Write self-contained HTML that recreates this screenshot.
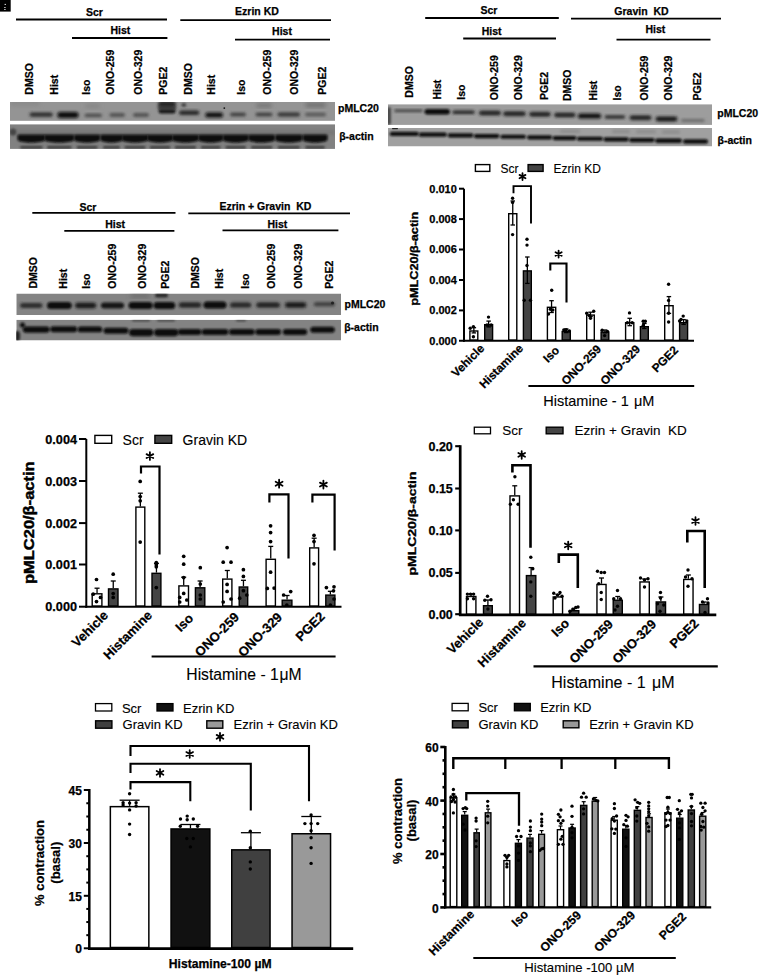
<!DOCTYPE html>
<html><head><meta charset="utf-8"><style>
html,body{margin:0;padding:0;background:#fff;overflow:hidden;width:760px;height:978px;}
svg{display:block;}
text{font-family:"Liberation Sans", sans-serif;}
text[font-weight="bold"]{stroke:#000;stroke-width:0.25px;}
text[font-weight="normal"]{stroke:#000;stroke-width:0.12px;}
</style></head><body>
<svg width="760" height="978" viewBox="0 0 760 978">
<defs>
<filter id="b1" x="-50%" y="-50%" width="200%" height="200%"><feGaussianBlur stdDeviation="1.2"/></filter>
<filter id="b2" x="-50%" y="-50%" width="200%" height="200%"><feGaussianBlur stdDeviation="2"/></filter>
<filter id="b08" x="-50%" y="-50%" width="200%" height="200%"><feGaussianBlur stdDeviation="0.8"/></filter>
<filter id="b15" x="-50%" y="-50%" width="200%" height="200%"><feGaussianBlur stdDeviation="1.5"/></filter>
<filter id="b05" x="-50%" y="-50%" width="200%" height="200%"><feGaussianBlur stdDeviation="0.6"/></filter>
</defs>
<rect width="760" height="978" fill="#fff"/>
<rect x="0" y="0" width="10.7" height="11.6" fill="#000"/>
<rect x="4.6" y="3.9" width="1.3" height="1.1" fill="#ddd"/>
<rect x="4.1" y="7" width="1.6" height="0.9" fill="#ccc"/>
<rect x="4.1" y="9.1" width="1.6" height="0.9" fill="#ccc"/>
<text x="94.5" y="16" font-size="10.5" font-weight="bold" text-anchor="middle" fill="#000">Scr</text>
<line x1="16" y1="19.5" x2="167" y2="19.5" stroke="#000" stroke-width="1.8" stroke-linecap="butt"/>
<text x="120.3" y="34.2" font-size="10.5" font-weight="bold" text-anchor="middle" fill="#000">Hist</text>
<line x1="72" y1="38" x2="167.4" y2="38" stroke="#000" stroke-width="1.8" stroke-linecap="butt"/>
<text x="257" y="15" font-size="10.5" font-weight="bold" text-anchor="middle" fill="#000">Ezrin KD</text>
<line x1="180.3" y1="20.1" x2="331" y2="20.1" stroke="#000" stroke-width="1.8" stroke-linecap="butt"/>
<text x="282" y="34.5" font-size="10.5" font-weight="bold" text-anchor="middle" fill="#000">Hist</text>
<line x1="235" y1="39.6" x2="330" y2="39.6" stroke="#000" stroke-width="1.8" stroke-linecap="butt"/>
<text transform="translate(33.3,94.7) rotate(-90)" font-size="10.5" font-weight="bold" text-anchor="start" fill="#000">DMSO</text>
<text transform="translate(57.9,94.7) rotate(-90)" font-size="10.5" font-weight="bold" text-anchor="start" fill="#000">Hist</text>
<text transform="translate(89.7,94.7) rotate(-90)" font-size="10.5" font-weight="bold" text-anchor="start" fill="#000">Iso</text>
<text transform="translate(113.6,94.7) rotate(-90)" font-size="10.5" font-weight="bold" text-anchor="start" fill="#000">ONO-259</text>
<text transform="translate(142.4,94.7) rotate(-90)" font-size="10.5" font-weight="bold" text-anchor="start" fill="#000">ONO-329</text>
<text transform="translate(166.6,94.7) rotate(-90)" font-size="10.5" font-weight="bold" text-anchor="start" fill="#000">PGE2</text>
<text transform="translate(191.5,94.7) rotate(-90)" font-size="10.5" font-weight="bold" text-anchor="start" fill="#000">DMSO</text>
<text transform="translate(215.3,94.7) rotate(-90)" font-size="10.5" font-weight="bold" text-anchor="start" fill="#000">Hist</text>
<text transform="translate(245.3,94.7) rotate(-90)" font-size="10.5" font-weight="bold" text-anchor="start" fill="#000">Iso</text>
<text transform="translate(271.3,94.7) rotate(-90)" font-size="10.5" font-weight="bold" text-anchor="start" fill="#000">ONO-259</text>
<text transform="translate(298.3,94.7) rotate(-90)" font-size="10.5" font-weight="bold" text-anchor="start" fill="#000">ONO-329</text>
<text transform="translate(326.3,94.7) rotate(-90)" font-size="10.5" font-weight="bold" text-anchor="start" fill="#000">PGE2</text>
<text x="488.9" y="14" font-size="10.5" font-weight="bold" text-anchor="middle" fill="#000">Scr</text>
<line x1="425.2" y1="18" x2="558.8" y2="18" stroke="#000" stroke-width="1.8" stroke-linecap="butt"/>
<text x="491.6" y="34.5" font-size="10.5" font-weight="bold" text-anchor="middle" fill="#000">Hist</text>
<line x1="463.2" y1="38.5" x2="556" y2="38.5" stroke="#000" stroke-width="1.8" stroke-linecap="butt"/>
<text x="641.5" y="14.5" font-size="10.5" font-weight="bold" text-anchor="middle" fill="#000">Gravin&#160;&#160;KD</text>
<line x1="571" y1="18.6" x2="721" y2="18.6" stroke="#000" stroke-width="1.8" stroke-linecap="butt"/>
<text x="655.4" y="33.2" font-size="10.5" font-weight="bold" text-anchor="middle" fill="#000">Hist</text>
<line x1="616.5" y1="39.6" x2="710.5" y2="39.6" stroke="#000" stroke-width="1.8" stroke-linecap="butt"/>
<text transform="translate(412.6,97.7) rotate(-90)" font-size="10.5" font-weight="bold" text-anchor="start" fill="#000">DMSO</text>
<text transform="translate(441.2,99.5) rotate(-90)" font-size="10.5" font-weight="bold" text-anchor="start" fill="#000">Hist</text>
<text transform="translate(464.5,99.7) rotate(-90)" font-size="10.5" font-weight="bold" text-anchor="start" fill="#000">Iso</text>
<text transform="translate(497.6,100.2) rotate(-90)" font-size="10.5" font-weight="bold" text-anchor="start" fill="#000">ONO-259</text>
<text transform="translate(522.2,100.2) rotate(-90)" font-size="10.5" font-weight="bold" text-anchor="start" fill="#000">ONO-329</text>
<text transform="translate(547.5,99.9) rotate(-90)" font-size="10.5" font-weight="bold" text-anchor="start" fill="#000">PGE2</text>
<text transform="translate(570.8,101) rotate(-90)" font-size="10.5" font-weight="bold" text-anchor="start" fill="#000">DMSO</text>
<text transform="translate(597.2,100.5) rotate(-90)" font-size="10.5" font-weight="bold" text-anchor="start" fill="#000">Hist</text>
<text transform="translate(621.4,100.5) rotate(-90)" font-size="10.5" font-weight="bold" text-anchor="start" fill="#000">Iso</text>
<text transform="translate(648.2,100.5) rotate(-90)" font-size="10.5" font-weight="bold" text-anchor="start" fill="#000">ONO-259</text>
<text transform="translate(672.2,100.5) rotate(-90)" font-size="10.5" font-weight="bold" text-anchor="start" fill="#000">ONO-329</text>
<text transform="translate(701.2,100.5) rotate(-90)" font-size="10.5" font-weight="bold" text-anchor="start" fill="#000">PGE2</text>
<text x="88" y="210.5" font-size="10.5" font-weight="bold" text-anchor="middle" fill="#000">Scr</text>
<line x1="32.3" y1="212.9" x2="175.5" y2="212.9" stroke="#000" stroke-width="1.8" stroke-linecap="butt"/>
<text x="115.1" y="228.2" font-size="10.5" font-weight="bold" text-anchor="middle" fill="#000">Hist</text>
<line x1="64.3" y1="230.8" x2="174.4" y2="230.8" stroke="#000" stroke-width="1.8" stroke-linecap="butt"/>
<text x="265.4" y="210.2" font-size="10.5" font-weight="bold" text-anchor="middle" fill="#000">Ezrin&#160;+&#160;Gravin&#160;&#160;KD</text>
<line x1="188.3" y1="213.3" x2="350" y2="213.3" stroke="#000" stroke-width="1.8" stroke-linecap="butt"/>
<text x="277.3" y="228.2" font-size="10.5" font-weight="bold" text-anchor="middle" fill="#000">Hist</text>
<line x1="222.5" y1="230.3" x2="338.4" y2="230.3" stroke="#000" stroke-width="1.8" stroke-linecap="butt"/>
<text transform="translate(36.5,288.5) rotate(-90)" font-size="10.5" font-weight="bold" text-anchor="start" fill="#000">DMSO</text>
<text transform="translate(66.7,288.7) rotate(-90)" font-size="10.5" font-weight="bold" text-anchor="start" fill="#000">Hist</text>
<text transform="translate(90.2,288.7) rotate(-90)" font-size="10.5" font-weight="bold" text-anchor="start" fill="#000">Iso</text>
<text transform="translate(115.9,288.7) rotate(-90)" font-size="10.5" font-weight="bold" text-anchor="start" fill="#000">ONO-259</text>
<text transform="translate(146,288.7) rotate(-90)" font-size="10.5" font-weight="bold" text-anchor="start" fill="#000">ONO-329</text>
<text transform="translate(169,288.7) rotate(-90)" font-size="10.5" font-weight="bold" text-anchor="start" fill="#000">PGE2</text>
<text transform="translate(198.7,288.5) rotate(-90)" font-size="10.5" font-weight="bold" text-anchor="start" fill="#000">DMSO</text>
<text transform="translate(223.3,288.7) rotate(-90)" font-size="10.5" font-weight="bold" text-anchor="start" fill="#000">Hist</text>
<text transform="translate(248.6,288.7) rotate(-90)" font-size="10.5" font-weight="bold" text-anchor="start" fill="#000">Iso</text>
<text transform="translate(274.8,288.7) rotate(-90)" font-size="10.5" font-weight="bold" text-anchor="start" fill="#000">ONO-259</text>
<text transform="translate(302.3,288.7) rotate(-90)" font-size="10.5" font-weight="bold" text-anchor="start" fill="#000">ONO-329</text>
<text transform="translate(332.5,288.7) rotate(-90)" font-size="10.5" font-weight="bold" text-anchor="start" fill="#000">PGE2</text>
<clipPath id="ca1"><rect x="10" y="102" width="325" height="19"/></clipPath><g clip-path="url(#ca1)">
<rect x="10" y="102" width="325" height="18.8" fill="#949494"/>
<rect x="10" y="100" width="30" height="6" rx="3" fill="#8a8a8a" opacity="1" filter="url(#b2)"/>
<rect x="29.6" y="112.4" width="23.2" height="4.4" rx="2.2" fill="#2a2a2a" opacity="1" filter="url(#b15)"/>
<rect x="57.3" y="112" width="21.3" height="6" rx="3" fill="#0d0d0d" opacity="1" filter="url(#b15)"/>
<rect x="84.6" y="113.7" width="17.4" height="3.4" rx="1.7" fill="#4a4a4a" opacity="1" filter="url(#b15)"/>
<rect x="85" y="104" width="15" height="4" rx="2" fill="#858585" opacity="1" filter="url(#b2)"/>
<rect x="109.5" y="113.3" width="15.5" height="3.4" rx="1.7" fill="#4a4a4a" opacity="1" filter="url(#b15)"/>
<rect x="133" y="113.3" width="16" height="3.4" rx="1.7" fill="#4a4a4a" opacity="1" filter="url(#b15)"/>
<rect x="158" y="101" width="18" height="7" rx="3.5" fill="#262626" opacity="1" filter="url(#b15)"/>
<rect x="158.6" y="109.05" width="16.9" height="4.5" rx="2.25" fill="#161616" opacity="1" filter="url(#b1)"/>
<rect x="158" y="106" width="18" height="4" rx="2" fill="#333" opacity="1" filter="url(#b15)"/>
<rect x="179" y="110.5" width="20.4" height="4.4" rx="2.2" fill="#262626" opacity="1" filter="url(#b15)"/>
<ellipse cx="183.8" cy="105" rx="2.5" ry="2" fill="#444" opacity="1" filter="url(#b1)"/>
<rect x="205.3" y="112.5" width="17.7" height="5" rx="2.5" fill="#111" opacity="1" filter="url(#b15)"/>
<circle cx="224.3" cy="108.1" r="0.9" fill="#111"/>
<rect x="230" y="112.7" width="16" height="3.6" rx="1.8" fill="#3a3a3a" opacity="1" filter="url(#b15)"/>
<rect x="255.5" y="112.7" width="17" height="3.6" rx="1.8" fill="#3a3a3a" opacity="1" filter="url(#b15)"/>
<rect x="256" y="103.75" width="16" height="3.5" rx="1.75" fill="#6e6e6e" opacity="1" filter="url(#b2)"/>
<rect x="277.5" y="112.5" width="22.5" height="4" rx="2" fill="#303030" opacity="1" filter="url(#b15)"/>
<rect x="305" y="112.8" width="21" height="3.4" rx="1.7" fill="#555" opacity="1" filter="url(#b15)"/>
<rect x="305" y="103" width="21" height="4" rx="2" fill="#6a6a6a" opacity="1" filter="url(#b2)"/>
</g>
<clipPath id="ca2"><rect x="10" y="124.2" width="325" height="24.7"/></clipPath><g clip-path="url(#ca2)">
<rect x="10" y="124.2" width="325" height="24.7" fill="#818181"/>
<rect x="10" y="130" width="325" height="5" fill="#787878" filter="url(#b15)"/>
<ellipse cx="13" cy="132" rx="3.2" ry="3.6" fill="#444" opacity="1" filter="url(#b1)"/>
<path d="M17.5,135.2 Q17.5,134.6 19.5,134.6 H43.2 Q45.2,134.6 45.2,135.2 V140 C42.2,143.6 20.5,143.6 17.5,140 Z" fill="#0a0a0a" filter="url(#b08)"/>
<rect x="20.2" y="145.9" width="22.3" height="2.6" rx="1.3" fill="#383838" opacity="1" filter="url(#b1)"/>
<path d="M44.3,135.2 Q44.3,134.6 46.3,134.6 H72.2 Q74.2,134.6 74.2,135.2 V140 C71.2,143.6 47.3,143.6 44.3,140 Z" fill="#0a0a0a" filter="url(#b08)"/>
<rect x="47" y="145.9" width="24.5" height="2.6" rx="1.3" fill="#383838" opacity="1" filter="url(#b1)"/>
<path d="M74,135.2 Q74,134.6 76,134.6 H98.2 Q100.2,134.6 100.2,135.2 V140 C97.2,143.6 77,143.6 74,140 Z" fill="#0a0a0a" filter="url(#b08)"/>
<rect x="76.7" y="145.9" width="20.8" height="2.6" rx="1.3" fill="#383838" opacity="1" filter="url(#b1)"/>
<path d="M100.3,135.2 Q100.3,134.6 102.3,134.6 H120.7 Q122.7,134.6 122.7,135.2 V140 C119.7,143.6 103.3,143.6 100.3,140 Z" fill="#0a0a0a" filter="url(#b08)"/>
<rect x="103" y="145.9" width="17" height="2.6" rx="1.3" fill="#383838" opacity="1" filter="url(#b1)"/>
<path d="M121.8,135.2 Q121.8,134.6 123.8,134.6 H146.2 Q148.2,134.6 148.2,135.2 V140 C145.2,143.6 124.8,143.6 121.8,140 Z" fill="#0a0a0a" filter="url(#b08)"/>
<rect x="124.5" y="145.9" width="21" height="2.6" rx="1.3" fill="#383838" opacity="1" filter="url(#b1)"/>
<path d="M147.1,135.2 Q147.1,134.6 149.1,134.6 H171 Q173,134.6 173,135.2 V140 C170,143.6 150.1,143.6 147.1,140 Z" fill="#0a0a0a" filter="url(#b08)"/>
<rect x="149.8" y="145.9" width="20.5" height="2.6" rx="1.3" fill="#383838" opacity="1" filter="url(#b1)"/>
<path d="M172.1,135.2 Q172.1,134.6 174.1,134.6 H196.8 Q198.8,134.6 198.8,135.2 V140 C195.8,143.6 175.1,143.6 172.1,140 Z" fill="#0a0a0a" filter="url(#b08)"/>
<rect x="174.8" y="145.9" width="21.3" height="2.6" rx="1.3" fill="#383838" opacity="1" filter="url(#b1)"/>
<path d="M198.2,135.2 Q198.2,134.6 200.2,134.6 H221.2 Q223.2,134.6 223.2,135.2 V140 C220.2,143.6 201.2,143.6 198.2,140 Z" fill="#0a0a0a" filter="url(#b08)"/>
<rect x="200.9" y="145.9" width="19.6" height="2.6" rx="1.3" fill="#383838" opacity="1" filter="url(#b1)"/>
<path d="M222.8,135.2 Q222.8,134.6 224.8,134.6 H246.7 Q248.7,134.6 248.7,135.2 V140 C245.7,143.6 225.8,143.6 222.8,140 Z" fill="#0a0a0a" filter="url(#b08)"/>
<rect x="225.5" y="145.9" width="20.5" height="2.6" rx="1.3" fill="#383838" opacity="1" filter="url(#b1)"/>
<path d="M248.3,135.2 Q248.3,134.6 250.3,134.6 H273 Q275,134.6 275,135.2 V140 C272,143.6 251.3,143.6 248.3,140 Z" fill="#0a0a0a" filter="url(#b08)"/>
<rect x="251" y="145.9" width="21.3" height="2.6" rx="1.3" fill="#383838" opacity="1" filter="url(#b1)"/>
<path d="M275.1,135.2 Q275.1,134.6 277.1,134.6 H300.5 Q302.5,134.6 302.5,135.2 V140 C299.5,143.6 278.1,143.6 275.1,140 Z" fill="#0a0a0a" filter="url(#b08)"/>
<rect x="277.8" y="145.9" width="22" height="2.6" rx="1.3" fill="#383838" opacity="1" filter="url(#b1)"/>
<path d="M302.6,135.2 Q302.6,134.6 304.6,134.6 H325.5 Q327.5,134.6 327.5,135.2 V140 C324.5,143.6 305.6,143.6 302.6,140 Z" fill="#0a0a0a" filter="url(#b08)"/>
<rect x="305.3" y="145.9" width="19.5" height="2.6" rx="1.3" fill="#383838" opacity="1" filter="url(#b1)"/>
</g>
<text x="338" y="112.2" font-size="10.5" font-weight="bold" text-anchor="start" fill="#000">pMLC20</text>
<text x="339.2" y="140.4" font-size="10.5" font-weight="bold" text-anchor="start" fill="#000">β-actin</text>
<clipPath id="cb1"><rect x="388" y="104.2" width="324" height="20.7"/></clipPath><g clip-path="url(#cb1)">
<rect x="388" y="104.2" width="324" height="20.7" fill="#9d9d9d"/>
<rect x="386.5" y="107" width="4.5" height="18" rx="2.25" fill="#4a4a4a" opacity="1" filter="url(#b1)"/>
<rect x="394.2" y="109.4" width="28.5" height="2.6" rx="1.3" fill="#383838" opacity="1" filter="url(#b15)"/>
<rect x="424.5" y="109.05" width="25.4" height="5.5" rx="2.75" fill="#0c0c0c" opacity="1" filter="url(#b1)"/>
<rect x="452.3" y="110.5" width="22.5" height="3.6" rx="1.8" fill="#202020" opacity="1" filter="url(#b15)"/>
<rect x="479" y="110.7" width="21.9" height="4.6" rx="2.3" fill="#1a1a1a" opacity="1" filter="url(#b15)"/>
<rect x="503.2" y="111.4" width="22.5" height="4.6" rx="2.3" fill="#1a1a1a" opacity="1" filter="url(#b15)"/>
<rect x="529.3" y="111.9" width="21.3" height="4.6" rx="2.3" fill="#1a1a1a" opacity="1" filter="url(#b15)"/>
<rect x="554.2" y="112.7" width="21.3" height="4.6" rx="2.3" fill="#1a1a1a" opacity="1" filter="url(#b15)"/>
<rect x="577.9" y="113.4" width="23.2" height="5.2" rx="2.6" fill="#0f0f0f" opacity="1" filter="url(#b15)"/>
<rect x="604.5" y="115.2" width="20.8" height="3.6" rx="1.8" fill="#2a2a2a" opacity="1" filter="url(#b15)"/>
<rect x="629.6" y="115.5" width="21.8" height="4.6" rx="2.3" fill="#1c1c1c" opacity="1" filter="url(#b15)"/>
<rect x="655.6" y="116.6" width="21.8" height="4.8" rx="2.4" fill="#161616" opacity="1" filter="url(#b15)"/>
<rect x="681" y="119.1" width="23.7" height="3" rx="1.5" fill="#6a6a6a" opacity="1" filter="url(#b15)"/>
</g>
<clipPath id="cb2"><rect x="388" y="128" width="324" height="18.5"/></clipPath><g clip-path="url(#cb2)">
<rect x="388" y="128" width="324" height="18.5" fill="#a0a0a0"/>
<rect x="389.7" y="131.81" width="29.2" height="4.2" rx="2.1" fill="#0a0a0a" opacity="1" filter="url(#b08)"/>
<rect x="418.8" y="132.55" width="28.1" height="4.2" rx="2.1" fill="#0a0a0a" opacity="1" filter="url(#b08)"/>
<rect x="447.7" y="133.28" width="25.7" height="4.2" rx="2.1" fill="#0a0a0a" opacity="1" filter="url(#b08)"/>
<rect x="473.8" y="133.96" width="25.7" height="4.2" rx="2.1" fill="#0a0a0a" opacity="1" filter="url(#b08)"/>
<rect x="500.3" y="134.65" width="25.7" height="4.2" rx="2.1" fill="#0a0a0a" opacity="1" filter="url(#b08)"/>
<rect x="527.1" y="135.34" width="25" height="4.2" rx="2.1" fill="#0a0a0a" opacity="1" filter="url(#b08)"/>
<rect x="552.5" y="135.99" width="24" height="4.2" rx="2.1" fill="#0a0a0a" opacity="1" filter="url(#b08)"/>
<rect x="576.9" y="136.66" width="26.1" height="4.2" rx="2.1" fill="#0a0a0a" opacity="1" filter="url(#b08)"/>
<rect x="603.5" y="137.34" width="25.2" height="4.2" rx="2.1" fill="#0a0a0a" opacity="1" filter="url(#b08)"/>
<rect x="629" y="138.01" width="25.7" height="4.2" rx="2.1" fill="#0a0a0a" opacity="1" filter="url(#b08)"/>
<rect x="655.1" y="138.51" width="26.9" height="4.6" rx="2.3" fill="#0a0a0a" opacity="1" filter="url(#b08)"/>
<rect x="683" y="139.21" width="25" height="4.6" rx="2.3" fill="#0a0a0a" opacity="1" filter="url(#b08)"/>
<rect x="392" y="127.9" width="6" height="1.4" rx="0.7" fill="#222" opacity="1" filter="url(#b05)"/>
<rect x="560" y="129.7" width="20" height="3" rx="1.5" fill="#8a8a8a" opacity="1" filter="url(#b15)"/>
<rect x="612" y="130" width="18" height="3" rx="1.5" fill="#8a8a8a" opacity="1" filter="url(#b15)"/>
<rect x="636" y="130.3" width="20" height="3" rx="1.5" fill="#8a8a8a" opacity="1" filter="url(#b15)"/>
<rect x="662" y="130.5" width="18" height="3" rx="1.5" fill="#8a8a8a" opacity="1" filter="url(#b15)"/>
</g>
<text x="717.3" y="117" font-size="10.5" font-weight="bold" text-anchor="start" fill="#000">pMLC20</text>
<text x="717.5" y="144" font-size="10.5" font-weight="bold" text-anchor="start" fill="#000">β-actin</text>
<clipPath id="cc1"><rect x="16.3" y="293.5" width="324.7" height="21.5"/></clipPath><g clip-path="url(#cc1)">
<rect x="16.3" y="293.5" width="324.7" height="21.5" fill="#848484"/>
<rect x="20" y="303.3" width="22.5" height="4.4" rx="2.2" fill="#222" opacity="1" filter="url(#b15)"/>
<rect x="47" y="302" width="24.75" height="7" rx="3.5" fill="#0a0a0a" opacity="1" filter="url(#b1)"/>
<rect x="75" y="302.8" width="21.25" height="5.4" rx="2.7" fill="#161616" opacity="1" filter="url(#b15)"/>
<rect x="101" y="302.5" width="23" height="6" rx="3" fill="#141414" opacity="1" filter="url(#b1)"/>
<rect x="128.5" y="302" width="24.25" height="7" rx="3.5" fill="#0a0a0a" opacity="1" filter="url(#b1)"/>
<rect x="130" y="294.5" width="20" height="3" rx="1.5" fill="#666" opacity="1" filter="url(#b2)"/>
<rect x="153.5" y="302" width="21.75" height="7" rx="3.5" fill="#0a0a0a" opacity="1" filter="url(#b1)"/>
<rect x="155" y="293.5" width="13" height="4" rx="2" fill="#2a2a2a" opacity="1" filter="url(#b1)"/>
<rect x="178.75" y="302.5" width="22.5" height="5" rx="2.5" fill="#1a1a1a" opacity="1" filter="url(#b15)"/>
<rect x="203.5" y="301.5" width="23" height="7" rx="3.5" fill="#0a0a0a" opacity="1" filter="url(#b1)"/>
<rect x="230" y="302.4" width="21.25" height="5.2" rx="2.6" fill="#202020" opacity="1" filter="url(#b15)"/>
<rect x="256.25" y="302.4" width="23.75" height="5.2" rx="2.6" fill="#1c1c1c" opacity="1" filter="url(#b15)"/>
<rect x="285" y="302.3" width="21.25" height="5.4" rx="2.7" fill="#161616" opacity="1" filter="url(#b15)"/>
<rect x="313.75" y="302.25" width="21.25" height="4" rx="2" fill="#3a3a3a" opacity="1" filter="url(#b15)"/>
<circle cx="332.5" cy="303" r="1.6" fill="#222"/>
</g>
<clipPath id="cc2"><rect x="16.3" y="319.7" width="324.7" height="20.8"/></clipPath><g clip-path="url(#cc2)">
<rect x="16.3" y="319.7" width="324.7" height="20.8" fill="#838383"/>
<ellipse cx="22.5" cy="325" rx="2.6" ry="2.6" fill="#111" opacity="1" filter="url(#b1)"/>
<rect x="14" y="331" width="6" height="10" rx="3" fill="#222" opacity="1" filter="url(#b1)"/>
<rect x="22.75" y="326.55" width="27" height="6.1" rx="3.05" fill="#0a0a0a" opacity="1" filter="url(#b08)"/>
<rect x="50.25" y="326.15" width="27" height="6.1" rx="3.05" fill="#0a0a0a" opacity="1" filter="url(#b08)"/>
<rect x="77.75" y="326.45" width="24.5" height="5.9" rx="2.95" fill="#0a0a0a" opacity="1" filter="url(#b08)"/>
<rect x="103.5" y="327.75" width="25" height="6.1" rx="3.05" fill="#0a0a0a" opacity="1" filter="url(#b08)"/>
<rect x="129" y="329.05" width="24.5" height="7.1" rx="3.55" fill="#0a0a0a" opacity="1" filter="url(#b08)"/>
<rect x="154" y="329.05" width="24.5" height="7.1" rx="3.55" fill="#0a0a0a" opacity="1" filter="url(#b08)"/>
<rect x="177.75" y="328.95" width="23.75" height="6.1" rx="3.05" fill="#0a0a0a" opacity="1" filter="url(#b08)"/>
<rect x="201.5" y="328.95" width="27" height="6.1" rx="3.05" fill="#0a0a0a" opacity="1" filter="url(#b08)"/>
<rect x="229" y="328.95" width="25.75" height="6.1" rx="3.05" fill="#0a0a0a" opacity="1" filter="url(#b08)"/>
<rect x="255.25" y="328.95" width="25.75" height="6.1" rx="3.05" fill="#0a0a0a" opacity="1" filter="url(#b08)"/>
<rect x="282.75" y="328.95" width="24.5" height="6.1" rx="3.05" fill="#0a0a0a" opacity="1" filter="url(#b08)"/>
<rect x="310.25" y="326.65" width="24.5" height="6.1" rx="3.05" fill="#0a0a0a" opacity="1" filter="url(#b08)"/>
<rect x="132" y="319.5" width="18" height="2" rx="1" fill="#444" opacity="1" filter="url(#b1)"/>
<rect x="157" y="319.5" width="18" height="2" rx="1" fill="#444" opacity="1" filter="url(#b1)"/>
<rect x="236" y="319.5" width="10" height="2" rx="1" fill="#444" opacity="1" filter="url(#b1)"/>
</g>
<text x="344.5" y="307.6" font-size="10.5" font-weight="bold" text-anchor="start" fill="#000">pMLC20</text>
<text x="344.2" y="330.7" font-size="10.5" font-weight="bold" text-anchor="start" fill="#000">β-actin</text>
<line x1="464" y1="188.7" x2="464" y2="341.75" stroke="#000" stroke-width="2" stroke-linecap="butt"/>
<line x1="459" y1="188.7" x2="464" y2="188.7" stroke="#000" stroke-width="2" stroke-linecap="butt"/>
<line x1="459" y1="219.1" x2="464" y2="219.1" stroke="#000" stroke-width="2" stroke-linecap="butt"/>
<line x1="459" y1="249.5" x2="464" y2="249.5" stroke="#000" stroke-width="2" stroke-linecap="butt"/>
<line x1="459" y1="280" x2="464" y2="280" stroke="#000" stroke-width="2" stroke-linecap="butt"/>
<line x1="459" y1="310.4" x2="464" y2="310.4" stroke="#000" stroke-width="2" stroke-linecap="butt"/>
<line x1="459" y1="340.75" x2="464" y2="340.75" stroke="#000" stroke-width="2" stroke-linecap="butt"/>
<text x="456.8" y="192.66" font-size="11" font-weight="bold" text-anchor="end" fill="#000">0.010</text>
<text x="456.8" y="223.06" font-size="11" font-weight="bold" text-anchor="end" fill="#000">0.008</text>
<text x="456.8" y="253.46" font-size="11" font-weight="bold" text-anchor="end" fill="#000">0.006</text>
<text x="456.8" y="283.96" font-size="11" font-weight="bold" text-anchor="end" fill="#000">0.004</text>
<text x="456.8" y="314.36" font-size="11" font-weight="bold" text-anchor="end" fill="#000">0.002</text>
<text x="456.8" y="344.71" font-size="11" font-weight="bold" text-anchor="end" fill="#000">0.000</text>
<line x1="463" y1="340.75" x2="694" y2="340.75" stroke="#000" stroke-width="2" stroke-linecap="butt"/>
<text transform="translate(417.6,258.7) rotate(-90)" font-size="10.2" font-weight="bold" text-anchor="middle" fill="#000" style="stroke:#000;stroke-width:0.35px" textLength="94" lengthAdjust="spacingAndGlyphs">pMLC20/β-actin</text>
<rect x="469.9" y="331" width="7.9" height="9" fill="#fff" stroke="#000" stroke-width="1.4"/>
<line x1="473.85" y1="327.7" x2="473.85" y2="332.9" stroke="#000" stroke-width="1.3" stroke-linecap="butt"/>
<line x1="471.6" y1="327.7" x2="476.1" y2="327.7" stroke="#000" stroke-width="1.3" stroke-linecap="butt"/>
<line x1="471.6" y1="332.9" x2="476.1" y2="332.9" stroke="#000" stroke-width="1.3" stroke-linecap="butt"/>
<rect x="484.7" y="324.7" width="7.9" height="15.3" fill="#444444" stroke="#000" stroke-width="1.4"/>
<line x1="488.65" y1="321.1" x2="488.65" y2="326.9" stroke="#000" stroke-width="1.3" stroke-linecap="butt"/>
<line x1="486.4" y1="321.1" x2="490.9" y2="321.1" stroke="#000" stroke-width="1.3" stroke-linecap="butt"/>
<line x1="486.4" y1="326.9" x2="490.9" y2="326.9" stroke="#000" stroke-width="1.3" stroke-linecap="butt"/>
<rect x="508.7" y="213.7" width="8.1" height="126.3" fill="#fff" stroke="#000" stroke-width="1.4"/>
<line x1="512.75" y1="201" x2="512.75" y2="225" stroke="#000" stroke-width="1.3" stroke-linecap="butt"/>
<line x1="510.5" y1="201" x2="515" y2="201" stroke="#000" stroke-width="1.3" stroke-linecap="butt"/>
<line x1="510.5" y1="225" x2="515" y2="225" stroke="#000" stroke-width="1.3" stroke-linecap="butt"/>
<rect x="523.4" y="270.9" width="7.9" height="69.1" fill="#444444" stroke="#000" stroke-width="1.4"/>
<line x1="527.35" y1="257" x2="527.35" y2="283.4" stroke="#000" stroke-width="1.3" stroke-linecap="butt"/>
<line x1="525.1" y1="257" x2="529.6" y2="257" stroke="#000" stroke-width="1.3" stroke-linecap="butt"/>
<line x1="525.1" y1="283.4" x2="529.6" y2="283.4" stroke="#000" stroke-width="1.3" stroke-linecap="butt"/>
<rect x="547.4" y="307.3" width="8.3" height="32.7" fill="#fff" stroke="#000" stroke-width="1.4"/>
<line x1="551.55" y1="300.7" x2="551.55" y2="312.5" stroke="#000" stroke-width="1.3" stroke-linecap="butt"/>
<line x1="549.3" y1="300.7" x2="553.8" y2="300.7" stroke="#000" stroke-width="1.3" stroke-linecap="butt"/>
<line x1="549.3" y1="312.5" x2="553.8" y2="312.5" stroke="#000" stroke-width="1.3" stroke-linecap="butt"/>
<rect x="562.2" y="331.5" width="8.1" height="8.5" fill="#444444" stroke="#000" stroke-width="1.4"/>
<line x1="566.25" y1="329" x2="566.25" y2="332.6" stroke="#000" stroke-width="1.3" stroke-linecap="butt"/>
<line x1="564" y1="329" x2="568.5" y2="329" stroke="#000" stroke-width="1.3" stroke-linecap="butt"/>
<line x1="564" y1="332.6" x2="568.5" y2="332.6" stroke="#000" stroke-width="1.3" stroke-linecap="butt"/>
<rect x="586.7" y="315.1" width="7.6" height="24.9" fill="#fff" stroke="#000" stroke-width="1.4"/>
<line x1="590.5" y1="312.2" x2="590.5" y2="316.6" stroke="#000" stroke-width="1.3" stroke-linecap="butt"/>
<line x1="588.25" y1="312.2" x2="592.75" y2="312.2" stroke="#000" stroke-width="1.3" stroke-linecap="butt"/>
<line x1="588.25" y1="316.6" x2="592.75" y2="316.6" stroke="#000" stroke-width="1.3" stroke-linecap="butt"/>
<rect x="601.1" y="332.1" width="7.7" height="7.9" fill="#444444" stroke="#000" stroke-width="1.4"/>
<line x1="604.95" y1="330" x2="604.95" y2="332.8" stroke="#000" stroke-width="1.3" stroke-linecap="butt"/>
<line x1="602.7" y1="330" x2="607.2" y2="330" stroke="#000" stroke-width="1.3" stroke-linecap="butt"/>
<line x1="602.7" y1="332.8" x2="607.2" y2="332.8" stroke="#000" stroke-width="1.3" stroke-linecap="butt"/>
<rect x="625.6" y="322.7" width="8.2" height="17.3" fill="#fff" stroke="#000" stroke-width="1.4"/>
<line x1="629.7" y1="318.3" x2="629.7" y2="325.7" stroke="#000" stroke-width="1.3" stroke-linecap="butt"/>
<line x1="627.45" y1="318.3" x2="631.95" y2="318.3" stroke="#000" stroke-width="1.3" stroke-linecap="butt"/>
<line x1="627.45" y1="325.7" x2="631.95" y2="325.7" stroke="#000" stroke-width="1.3" stroke-linecap="butt"/>
<rect x="640.4" y="326.7" width="7.9" height="13.3" fill="#444444" stroke="#000" stroke-width="1.4"/>
<line x1="644.35" y1="323.5" x2="644.35" y2="328.5" stroke="#000" stroke-width="1.3" stroke-linecap="butt"/>
<line x1="642.1" y1="323.5" x2="646.6" y2="323.5" stroke="#000" stroke-width="1.3" stroke-linecap="butt"/>
<line x1="642.1" y1="328.5" x2="646.6" y2="328.5" stroke="#000" stroke-width="1.3" stroke-linecap="butt"/>
<rect x="664.7" y="305.7" width="8.4" height="34.3" fill="#fff" stroke="#000" stroke-width="1.4"/>
<line x1="668.9" y1="296.6" x2="668.9" y2="313.4" stroke="#000" stroke-width="1.3" stroke-linecap="butt"/>
<line x1="666.65" y1="296.6" x2="671.15" y2="296.6" stroke="#000" stroke-width="1.3" stroke-linecap="butt"/>
<line x1="666.65" y1="313.4" x2="671.15" y2="313.4" stroke="#000" stroke-width="1.3" stroke-linecap="butt"/>
<rect x="679.6" y="322.7" width="8" height="17.3" fill="#444444" stroke="#000" stroke-width="1.4"/>
<line x1="683.6" y1="319.6" x2="683.6" y2="324.4" stroke="#000" stroke-width="1.3" stroke-linecap="butt"/>
<line x1="681.35" y1="319.6" x2="685.85" y2="319.6" stroke="#000" stroke-width="1.3" stroke-linecap="butt"/>
<line x1="681.35" y1="324.4" x2="685.85" y2="324.4" stroke="#000" stroke-width="1.3" stroke-linecap="butt"/>
<path d="M513.5,193.3 V186.1 H531 V223.4" stroke="#000" stroke-width="1.9" fill="none"/>
<path d="M522.50,173.15L522.50,180.05M519.52,174.88L525.48,178.32M525.48,174.88L519.52,178.32" stroke="#000" stroke-width="1.8" stroke-linecap="round"/>
<path d="M550.3,270.4 V263.5 H566.5 V302.4" stroke="#000" stroke-width="2.1" fill="none"/>
<path d="M558.60,250.53L558.60,257.57M555.56,252.29L561.64,255.81M561.64,252.29L555.56,255.81" stroke="#000" stroke-width="1.8" stroke-linecap="round"/>
<rect x="475.4" y="164.6" width="14.4" height="6.8" fill="#fff" stroke="#000" stroke-width="1.4"/>
<text x="500.4" y="173.2" font-size="12" font-weight="normal" text-anchor="start" fill="#000">Scr</text>
<rect x="528.1" y="164.6" width="15" height="6.8" fill="#444444" stroke="#000" stroke-width="1.4"/>
<text x="553.5" y="173.2" font-size="12" font-weight="normal" text-anchor="start" fill="#000">Ezrin KD</text>
<text transform="translate(485.04,349.09) rotate(-45)" font-size="11.8" font-weight="bold" text-anchor="end" fill="#000">Vehicle</text>
<text transform="translate(524.01,349.03) rotate(-45)" font-size="11.8" font-weight="bold" text-anchor="end" fill="#000">Histamine</text>
<text transform="translate(560.09,351.11) rotate(-45)" font-size="11.8" font-weight="bold" text-anchor="end" fill="#000">Iso</text>
<text transform="translate(601.97,349.94) rotate(-45)" font-size="11.8" font-weight="bold" text-anchor="end" fill="#000">ONO-259</text>
<text transform="translate(640.99,349.98) rotate(-45)" font-size="11.8" font-weight="bold" text-anchor="end" fill="#000">ONO-329</text>
<text transform="translate(679.01,350.8) rotate(-45)" font-size="11.8" font-weight="bold" text-anchor="end" fill="#000">PGE2</text>
<line x1="528.4" y1="386" x2="694.2" y2="386" stroke="#000" stroke-width="2" stroke-linecap="butt"/>
<text x="543.3" y="405.5" font-size="14.5" font-weight="normal" text-anchor="start" fill="#000">Histamine - 1 <tspan dx="1.2">μM</tspan></text>
<line x1="86.3" y1="439" x2="86.3" y2="607.7" stroke="#000" stroke-width="2" stroke-linecap="butt"/>
<line x1="79" y1="439" x2="86.3" y2="439" stroke="#000" stroke-width="2" stroke-linecap="butt"/>
<line x1="79" y1="481" x2="86.3" y2="481" stroke="#000" stroke-width="2" stroke-linecap="butt"/>
<line x1="79" y1="523.1" x2="86.3" y2="523.1" stroke="#000" stroke-width="2" stroke-linecap="butt"/>
<line x1="79" y1="564.5" x2="86.3" y2="564.5" stroke="#000" stroke-width="2" stroke-linecap="butt"/>
<line x1="79" y1="606.7" x2="86.3" y2="606.7" stroke="#000" stroke-width="2" stroke-linecap="butt"/>
<text x="77" y="443.57" font-size="12.7" font-weight="bold" text-anchor="end" fill="#000">0.004</text>
<text x="77" y="485.57" font-size="12.7" font-weight="bold" text-anchor="end" fill="#000">0.003</text>
<text x="77" y="527.67" font-size="12.7" font-weight="bold" text-anchor="end" fill="#000">0.002</text>
<text x="77" y="569.07" font-size="12.7" font-weight="bold" text-anchor="end" fill="#000">0.001</text>
<text x="77" y="611.27" font-size="12.7" font-weight="bold" text-anchor="end" fill="#000">0.000</text>
<line x1="85.3" y1="606.7" x2="341.5" y2="606.7" stroke="#000" stroke-width="2" stroke-linecap="butt"/>
<text transform="translate(34.1,522.7) rotate(-90)" font-size="14.2" font-weight="bold" text-anchor="middle" fill="#000" style="stroke:#000;stroke-width:0.45px" textLength="122.5" lengthAdjust="spacingAndGlyphs">pMLC20/β-actin</text>
<rect x="92.2" y="593.8" width="9.7" height="12.2" fill="#fff" stroke="#000" stroke-width="1.4"/>
<line x1="97.05" y1="588.2" x2="97.05" y2="593.1" stroke="#000" stroke-width="1.3" stroke-linecap="butt"/>
<line x1="94.55" y1="588.2" x2="99.55" y2="588.2" stroke="#000" stroke-width="1.3" stroke-linecap="butt"/>
<rect x="108.5" y="588.9" width="9.5" height="17.1" fill="#444444" stroke="#000" stroke-width="1.4"/>
<line x1="113.25" y1="581" x2="113.25" y2="588.2" stroke="#000" stroke-width="1.3" stroke-linecap="butt"/>
<line x1="110.75" y1="581" x2="115.75" y2="581" stroke="#000" stroke-width="1.3" stroke-linecap="butt"/>
<rect x="135.9" y="507.1" width="8.9" height="98.9" fill="#fff" stroke="#000" stroke-width="1.4"/>
<line x1="140.35" y1="493.2" x2="140.35" y2="506.4" stroke="#000" stroke-width="1.3" stroke-linecap="butt"/>
<line x1="137.85" y1="493.2" x2="142.85" y2="493.2" stroke="#000" stroke-width="1.3" stroke-linecap="butt"/>
<rect x="152" y="573.3" width="8.9" height="32.7" fill="#444444" stroke="#000" stroke-width="1.4"/>
<line x1="156.45" y1="563.4" x2="156.45" y2="572.6" stroke="#000" stroke-width="1.3" stroke-linecap="butt"/>
<line x1="153.95" y1="563.4" x2="158.95" y2="563.4" stroke="#000" stroke-width="1.3" stroke-linecap="butt"/>
<rect x="178.9" y="585.9" width="9.6" height="20.1" fill="#fff" stroke="#000" stroke-width="1.4"/>
<line x1="183.7" y1="577.2" x2="183.7" y2="585.2" stroke="#000" stroke-width="1.3" stroke-linecap="butt"/>
<line x1="181.2" y1="577.2" x2="186.2" y2="577.2" stroke="#000" stroke-width="1.3" stroke-linecap="butt"/>
<rect x="195.4" y="587.8" width="9.4" height="18.2" fill="#444444" stroke="#000" stroke-width="1.4"/>
<line x1="200.1" y1="581" x2="200.1" y2="587.1" stroke="#000" stroke-width="1.3" stroke-linecap="butt"/>
<line x1="197.6" y1="581" x2="202.6" y2="581" stroke="#000" stroke-width="1.3" stroke-linecap="butt"/>
<rect x="222.7" y="579.1" width="9.2" height="26.9" fill="#fff" stroke="#000" stroke-width="1.4"/>
<line x1="227.3" y1="570.5" x2="227.3" y2="578.4" stroke="#000" stroke-width="1.3" stroke-linecap="butt"/>
<line x1="224.8" y1="570.5" x2="229.8" y2="570.5" stroke="#000" stroke-width="1.3" stroke-linecap="butt"/>
<rect x="239.2" y="587" width="8.5" height="19" fill="#444444" stroke="#000" stroke-width="1.4"/>
<line x1="243.45" y1="580.3" x2="243.45" y2="586.3" stroke="#000" stroke-width="1.3" stroke-linecap="butt"/>
<line x1="240.95" y1="580.3" x2="245.95" y2="580.3" stroke="#000" stroke-width="1.3" stroke-linecap="butt"/>
<rect x="266.1" y="559.3" width="9.3" height="46.7" fill="#fff" stroke="#000" stroke-width="1.4"/>
<line x1="270.75" y1="546.4" x2="270.75" y2="558.6" stroke="#000" stroke-width="1.3" stroke-linecap="butt"/>
<line x1="268.25" y1="546.4" x2="273.25" y2="546.4" stroke="#000" stroke-width="1.3" stroke-linecap="butt"/>
<rect x="282.2" y="600.2" width="9.7" height="5.8" fill="#444444" stroke="#000" stroke-width="1.4"/>
<line x1="287.05" y1="595.5" x2="287.05" y2="599.5" stroke="#000" stroke-width="1.3" stroke-linecap="butt"/>
<line x1="284.55" y1="595.5" x2="289.55" y2="595.5" stroke="#000" stroke-width="1.3" stroke-linecap="butt"/>
<rect x="309.7" y="547.9" width="8.9" height="58.1" fill="#fff" stroke="#000" stroke-width="1.4"/>
<line x1="314.15" y1="538.2" x2="314.15" y2="547.2" stroke="#000" stroke-width="1.3" stroke-linecap="butt"/>
<line x1="311.65" y1="538.2" x2="316.65" y2="538.2" stroke="#000" stroke-width="1.3" stroke-linecap="butt"/>
<rect x="325.8" y="595.1" width="9.1" height="10.9" fill="#444444" stroke="#000" stroke-width="1.4"/>
<line x1="330.35" y1="591.3" x2="330.35" y2="594.4" stroke="#000" stroke-width="1.3" stroke-linecap="butt"/>
<line x1="327.85" y1="591.3" x2="332.85" y2="591.3" stroke="#000" stroke-width="1.3" stroke-linecap="butt"/>
<path d="M141,473.4 V466.5 H159.5 V554.4" stroke="#000" stroke-width="2.2" fill="none"/>
<path d="M149.90,452.18L149.90,459.92M146.55,454.12L153.25,457.98M153.25,454.12L146.55,457.98" stroke="#000" stroke-width="1.8" stroke-linecap="round"/>
<path d="M269.4,502.4 V494.3 H288.5 V558.6" stroke="#000" stroke-width="2.2" fill="none"/>
<path d="M279.10,479.72L279.10,487.68M275.65,481.71L282.55,485.69M282.55,481.71L275.65,485.69" stroke="#000" stroke-width="1.8" stroke-linecap="round"/>
<path d="M312.4,502.4 V494.7 H334.6 V550.4" stroke="#000" stroke-width="2.2" fill="none"/>
<path d="M323.40,480.62L323.40,488.58M319.95,482.61L326.85,486.59M326.85,482.61L319.95,486.59" stroke="#000" stroke-width="1.8" stroke-linecap="round"/>
<rect x="94.9" y="435.4" width="16.8" height="7.9" fill="#fff" stroke="#000" stroke-width="1.4"/>
<text x="122.6" y="445" font-size="14" font-weight="normal" text-anchor="start" fill="#000">Scr</text>
<rect x="154.9" y="435.4" width="16.8" height="7.9" fill="#444444" stroke="#000" stroke-width="1.4"/>
<text x="182.6" y="445" font-size="14" font-weight="normal" text-anchor="start" fill="#000">Gravin KD</text>
<text transform="translate(109.02,616.07) rotate(-45)" font-size="13.1" font-weight="bold" text-anchor="end" fill="#000">Vehicle</text>
<text transform="translate(153.01,616.02) rotate(-45)" font-size="13.1" font-weight="bold" text-anchor="end" fill="#000">Histamine</text>
<text transform="translate(194.09,619.17) rotate(-45)" font-size="13.1" font-weight="bold" text-anchor="end" fill="#000">Iso</text>
<text transform="translate(239.98,617.94) rotate(-45)" font-size="13.1" font-weight="bold" text-anchor="end" fill="#000">ONO-259</text>
<text transform="translate(283.01,618.02) rotate(-45)" font-size="13.1" font-weight="bold" text-anchor="end" fill="#000">ONO-329</text>
<text transform="translate(325.59,617.25) rotate(-45)" font-size="13.1" font-weight="bold" text-anchor="end" fill="#000">PGE2</text>
<line x1="151.6" y1="656.5" x2="335.6" y2="656.5" stroke="#000" stroke-width="2" stroke-linecap="butt"/>
<text x="186.3" y="679.6" font-size="15.7" font-weight="normal" text-anchor="start" fill="#000">Histamine - 1<tspan dx="0.8">μM</tspan></text>
<line x1="460.2" y1="445.2" x2="460.2" y2="615.6" stroke="#000" stroke-width="2.7" stroke-linecap="butt"/>
<line x1="455.2" y1="446.2" x2="460.2" y2="446.2" stroke="#000" stroke-width="2.1" stroke-linecap="butt"/>
<line x1="455.2" y1="488.5" x2="460.2" y2="488.5" stroke="#000" stroke-width="2.1" stroke-linecap="butt"/>
<line x1="455.2" y1="530.4" x2="460.2" y2="530.4" stroke="#000" stroke-width="2.1" stroke-linecap="butt"/>
<line x1="455.2" y1="572.9" x2="460.2" y2="572.9" stroke="#000" stroke-width="2.1" stroke-linecap="butt"/>
<line x1="455.2" y1="614.2" x2="460.2" y2="614.2" stroke="#000" stroke-width="2.1" stroke-linecap="butt"/>
<text x="452.8" y="450.7" font-size="12.5" font-weight="bold" text-anchor="end" fill="#000">0.20</text>
<text x="452.8" y="493" font-size="12.5" font-weight="bold" text-anchor="end" fill="#000">0.15</text>
<text x="452.8" y="534.9" font-size="12.5" font-weight="bold" text-anchor="end" fill="#000">0.10</text>
<text x="452.8" y="577.4" font-size="12.5" font-weight="bold" text-anchor="end" fill="#000">0.05</text>
<text x="452.8" y="618.7" font-size="12.5" font-weight="bold" text-anchor="end" fill="#000">0.00</text>
<line x1="458.9" y1="614.8" x2="716.3" y2="614.8" stroke="#000" stroke-width="2.8" stroke-linecap="butt"/>
<text transform="translate(415.9,523.5) rotate(-90)" font-size="11.5" font-weight="bold" text-anchor="middle" fill="#000" style="stroke:#000;stroke-width:0.35px" textLength="104" lengthAdjust="spacingAndGlyphs">pMLC20/β-actin</text>
<rect x="466.5" y="596.5" width="9.4" height="17.5" fill="#fff" stroke="#000" stroke-width="1.4"/>
<line x1="471.2" y1="594" x2="471.2" y2="595.8" stroke="#000" stroke-width="1.3" stroke-linecap="butt"/>
<line x1="468.7" y1="594" x2="473.7" y2="594" stroke="#000" stroke-width="1.3" stroke-linecap="butt"/>
<rect x="483.5" y="605.7" width="8.8" height="8.3" fill="#444444" stroke="#000" stroke-width="1.4"/>
<line x1="487.9" y1="600" x2="487.9" y2="605" stroke="#000" stroke-width="1.3" stroke-linecap="butt"/>
<line x1="485.4" y1="600" x2="490.4" y2="600" stroke="#000" stroke-width="1.3" stroke-linecap="butt"/>
<rect x="510" y="495.9" width="9.5" height="118.1" fill="#fff" stroke="#000" stroke-width="1.4"/>
<line x1="514.75" y1="485.8" x2="514.75" y2="495.2" stroke="#000" stroke-width="1.3" stroke-linecap="butt"/>
<line x1="512.25" y1="485.8" x2="517.25" y2="485.8" stroke="#000" stroke-width="1.3" stroke-linecap="butt"/>
<rect x="526.4" y="575.6" width="9.4" height="38.4" fill="#444444" stroke="#000" stroke-width="1.4"/>
<line x1="531.1" y1="567.6" x2="531.1" y2="574.9" stroke="#000" stroke-width="1.3" stroke-linecap="butt"/>
<line x1="528.6" y1="567.6" x2="533.6" y2="567.6" stroke="#000" stroke-width="1.3" stroke-linecap="butt"/>
<rect x="553.2" y="596.95" width="9.35" height="17.05" fill="#fff" stroke="#000" stroke-width="1.4"/>
<line x1="557.88" y1="594.5" x2="557.88" y2="596.25" stroke="#000" stroke-width="1.3" stroke-linecap="butt"/>
<line x1="555.38" y1="594.5" x2="560.38" y2="594.5" stroke="#000" stroke-width="1.3" stroke-linecap="butt"/>
<rect x="569.45" y="610.7" width="9.35" height="3.3" fill="#444444" stroke="#000" stroke-width="1.4"/>
<line x1="574.12" y1="608.5" x2="574.12" y2="610" stroke="#000" stroke-width="1.3" stroke-linecap="butt"/>
<line x1="571.62" y1="608.5" x2="576.62" y2="608.5" stroke="#000" stroke-width="1.3" stroke-linecap="butt"/>
<rect x="596.95" y="584.45" width="9.1" height="29.55" fill="#fff" stroke="#000" stroke-width="1.4"/>
<line x1="601.5" y1="578" x2="601.5" y2="583.75" stroke="#000" stroke-width="1.3" stroke-linecap="butt"/>
<line x1="599" y1="578" x2="604" y2="578" stroke="#000" stroke-width="1.3" stroke-linecap="butt"/>
<rect x="613.2" y="600.2" width="9.1" height="13.8" fill="#444444" stroke="#000" stroke-width="1.4"/>
<line x1="617.75" y1="596.5" x2="617.75" y2="599.5" stroke="#000" stroke-width="1.3" stroke-linecap="butt"/>
<line x1="615.25" y1="596.5" x2="620.25" y2="596.5" stroke="#000" stroke-width="1.3" stroke-linecap="butt"/>
<rect x="639.95" y="581.95" width="9.35" height="32.05" fill="#fff" stroke="#000" stroke-width="1.4"/>
<line x1="644.62" y1="579" x2="644.62" y2="581.25" stroke="#000" stroke-width="1.3" stroke-linecap="butt"/>
<line x1="642.12" y1="579" x2="647.12" y2="579" stroke="#000" stroke-width="1.3" stroke-linecap="butt"/>
<rect x="656.2" y="601.95" width="9.35" height="12.05" fill="#444444" stroke="#000" stroke-width="1.4"/>
<line x1="660.88" y1="597" x2="660.88" y2="601.25" stroke="#000" stroke-width="1.3" stroke-linecap="butt"/>
<line x1="658.38" y1="597" x2="663.38" y2="597" stroke="#000" stroke-width="1.3" stroke-linecap="butt"/>
<rect x="683.7" y="579.45" width="9.35" height="34.55" fill="#fff" stroke="#000" stroke-width="1.4"/>
<line x1="688.38" y1="575" x2="688.38" y2="578.75" stroke="#000" stroke-width="1.3" stroke-linecap="butt"/>
<line x1="685.88" y1="575" x2="690.88" y2="575" stroke="#000" stroke-width="1.3" stroke-linecap="butt"/>
<rect x="699.45" y="604.45" width="9.35" height="9.55" fill="#444444" stroke="#000" stroke-width="1.4"/>
<line x1="704.12" y1="602" x2="704.12" y2="603.75" stroke="#000" stroke-width="1.3" stroke-linecap="butt"/>
<line x1="701.62" y1="602" x2="706.62" y2="602" stroke="#000" stroke-width="1.3" stroke-linecap="butt"/>
<path d="M512.4,472.6 V465.2 H530.5 V547.7" stroke="#000" stroke-width="2.6" fill="none"/>
<path d="M521.70,451.03L521.70,458.77M518.35,452.97L525.05,456.83M525.05,452.97L518.35,456.83" stroke="#000" stroke-width="1.8" stroke-linecap="round"/>
<path d="M558.8,563 V554.6 H577.8 V588" stroke="#000" stroke-width="2.6" fill="none"/>
<path d="M568.20,541.53L568.20,549.27M564.85,543.47L571.55,547.33M571.55,543.47L564.85,547.33" stroke="#000" stroke-width="1.8" stroke-linecap="round"/>
<path d="M687.3,542.6 V531 H704.7 V588" stroke="#000" stroke-width="2.6" fill="none"/>
<path d="M695.50,517.13L695.50,524.87M692.15,519.07L698.85,522.93M698.85,519.07L692.15,522.93" stroke="#000" stroke-width="1.8" stroke-linecap="round"/>
<rect x="474.3" y="427.2" width="16.2" height="6.6" fill="#fff" stroke="#000" stroke-width="1.3"/>
<text x="502.2" y="435.2" font-size="13.5" font-weight="normal" text-anchor="start" fill="#000">Scr</text>
<rect x="546.2" y="427.2" width="16.8" height="6.6" fill="#444444" stroke="#000" stroke-width="1.4"/>
<text x="574.5" y="435.2" font-size="13.5" font-weight="normal" text-anchor="start" fill="#000">Ezrin + Gravin&#160;&#160;KD</text>
<text transform="translate(484.05,623.1) rotate(-45)" font-size="13.0" font-weight="bold" text-anchor="end" fill="#000">Vehicle</text>
<text transform="translate(526.99,624) rotate(-45)" font-size="13.0" font-weight="bold" text-anchor="end" fill="#000">Histamine</text>
<text transform="translate(570.08,624.12) rotate(-45)" font-size="13.0" font-weight="bold" text-anchor="end" fill="#000">Iso</text>
<text transform="translate(613.99,624.98) rotate(-45)" font-size="13.0" font-weight="bold" text-anchor="end" fill="#000">ONO-259</text>
<text transform="translate(657,625) rotate(-45)" font-size="13.0" font-weight="bold" text-anchor="end" fill="#000">ONO-329</text>
<text transform="translate(699.61,624.35) rotate(-45)" font-size="13.0" font-weight="bold" text-anchor="end" fill="#000">PGE2</text>
<line x1="533.5" y1="666.3" x2="717.8" y2="666.3" stroke="#000" stroke-width="2.2" stroke-linecap="butt"/>
<text x="551.3" y="687.8" font-size="16" font-weight="normal" text-anchor="start" fill="#000">Histamine - 1 <tspan dx="2">μM</tspan></text>
<line x1="89.3" y1="789" x2="89.3" y2="949.5" stroke="#000" stroke-width="2.5" stroke-linecap="butt"/>
<line x1="83.8" y1="790" x2="89.3" y2="790" stroke="#000" stroke-width="2" stroke-linecap="butt"/>
<line x1="83.8" y1="843" x2="89.3" y2="843" stroke="#000" stroke-width="2" stroke-linecap="butt"/>
<line x1="83.8" y1="895.8" x2="89.3" y2="895.8" stroke="#000" stroke-width="2" stroke-linecap="butt"/>
<line x1="83.8" y1="948.3" x2="89.3" y2="948.3" stroke="#000" stroke-width="2" stroke-linecap="butt"/>
<line x1="86.3" y1="803.25" x2="89.3" y2="803.25" stroke="#000" stroke-width="2" stroke-linecap="butt"/>
<line x1="86.3" y1="816.5" x2="89.3" y2="816.5" stroke="#000" stroke-width="2" stroke-linecap="butt"/>
<line x1="86.3" y1="829.75" x2="89.3" y2="829.75" stroke="#000" stroke-width="2" stroke-linecap="butt"/>
<line x1="86.3" y1="856.2" x2="89.3" y2="856.2" stroke="#000" stroke-width="2" stroke-linecap="butt"/>
<line x1="86.3" y1="869.4" x2="89.3" y2="869.4" stroke="#000" stroke-width="2" stroke-linecap="butt"/>
<line x1="86.3" y1="882.6" x2="89.3" y2="882.6" stroke="#000" stroke-width="2" stroke-linecap="butt"/>
<line x1="86.3" y1="908.92" x2="89.3" y2="908.92" stroke="#000" stroke-width="2" stroke-linecap="butt"/>
<line x1="86.3" y1="922.05" x2="89.3" y2="922.05" stroke="#000" stroke-width="2" stroke-linecap="butt"/>
<line x1="86.3" y1="935.17" x2="89.3" y2="935.17" stroke="#000" stroke-width="2" stroke-linecap="butt"/>
<text x="81.9" y="795.12" font-size="12" font-weight="bold" text-anchor="end" fill="#000">45</text>
<text x="81.9" y="848.12" font-size="12" font-weight="bold" text-anchor="end" fill="#000">30</text>
<text x="81.9" y="900.92" font-size="12" font-weight="bold" text-anchor="end" fill="#000">15</text>
<text x="81.9" y="953.42" font-size="12" font-weight="bold" text-anchor="end" fill="#000">0</text>
<line x1="88" y1="948.6" x2="353.2" y2="948.6" stroke="#000" stroke-width="2.6" stroke-linecap="butt"/>
<text transform="translate(44.2,863) rotate(-90)" font-size="13" font-weight="bold" text-anchor="middle" fill="#000">% contraction</text>
<text transform="translate(60.2,862.7) rotate(-90)" font-size="13" font-weight="bold" text-anchor="middle" fill="#000">(basal)</text>
<rect x="110.35" y="806.65" width="38.5" height="140.85" fill="#fff" stroke="#000" stroke-width="1.5"/>
<line x1="129.6" y1="800.2" x2="129.6" y2="805.9" stroke="#000" stroke-width="1.3" stroke-linecap="butt"/>
<line x1="119.6" y1="800.2" x2="139.6" y2="800.2" stroke="#000" stroke-width="1.3" stroke-linecap="butt"/>
<rect x="171.05" y="828.95" width="38.8" height="118.55" fill="#111111" stroke="#000" stroke-width="1.5"/>
<line x1="190.45" y1="824.5" x2="190.45" y2="828.2" stroke="#000" stroke-width="1.3" stroke-linecap="butt"/>
<line x1="180.45" y1="824.5" x2="200.45" y2="824.5" stroke="#000" stroke-width="1.3" stroke-linecap="butt"/>
<rect x="231.75" y="849.85" width="38.3" height="97.65" fill="#404040" stroke="#000" stroke-width="1.5"/>
<line x1="250.9" y1="832.7" x2="250.9" y2="849.1" stroke="#000" stroke-width="1.3" stroke-linecap="butt"/>
<line x1="240.9" y1="832.7" x2="260.9" y2="832.7" stroke="#000" stroke-width="1.3" stroke-linecap="butt"/>
<rect x="292.05" y="833.75" width="38.5" height="113.75" fill="#999999" stroke="#000" stroke-width="1.5"/>
<line x1="311.3" y1="816.5" x2="311.3" y2="833" stroke="#000" stroke-width="1.3" stroke-linecap="butt"/>
<line x1="301.3" y1="816.5" x2="321.3" y2="816.5" stroke="#000" stroke-width="1.3" stroke-linecap="butt"/>
<path d="M130.5,789.5 V782.1 H190.3 V801.3" stroke="#000" stroke-width="2.1" fill="none"/>
<path d="M160.00,769.03L160.00,776.77M156.65,770.97L163.35,774.83M163.35,770.97L156.65,774.83" stroke="#000" stroke-width="1.8" stroke-linecap="round"/>
<path d="M130.5,772.9 V763.7 H250.8 V810.5" stroke="#000" stroke-width="2.1" fill="none"/>
<path d="M189.70,750.13L189.70,757.87M186.35,752.07L193.05,755.93M193.05,752.07L186.35,755.93" stroke="#000" stroke-width="1.8" stroke-linecap="round"/>
<path d="M130.5,756 V746 H309 V801.3" stroke="#000" stroke-width="2.1" fill="none"/>
<path d="M220.00,732.93L220.00,740.67M216.65,734.87L223.35,738.73M223.35,734.87L216.65,738.73" stroke="#000" stroke-width="1.8" stroke-linecap="round"/>
<rect x="95.5" y="703.6" width="16.3" height="7.4" fill="#fff" stroke="#000" stroke-width="1.3"/>
<text x="121.9" y="712.6" font-size="13" font-weight="normal" text-anchor="start" fill="#000">Scr</text>
<rect x="157" y="703.6" width="16" height="7.4" fill="#111" stroke="#000" stroke-width="1.3"/>
<text x="183" y="712.6" font-size="13" font-weight="normal" text-anchor="start" fill="#000">Ezrin KD</text>
<rect x="95.6" y="720.8" width="16.3" height="7.4" fill="#404040" stroke="#000" stroke-width="1.4"/>
<text x="122.6" y="729.2" font-size="13" font-weight="normal" text-anchor="start" fill="#000">Gravin KD</text>
<rect x="206.8" y="720.8" width="16" height="7.4" fill="#999" stroke="#000" stroke-width="1.4"/>
<text x="233.5" y="729.2" font-size="13" font-weight="normal" text-anchor="start" fill="#000">Ezrin + Gravin KD</text>
<text x="168.8" y="968.2" font-size="12.15" font-weight="bold" text-anchor="start" fill="#000">Histamine-100 µM</text>
<line x1="445.3" y1="746" x2="445.3" y2="908.4" stroke="#000" stroke-width="2.6" stroke-linecap="butt"/>
<line x1="440.3" y1="747" x2="445.3" y2="747" stroke="#000" stroke-width="2.6" stroke-linecap="butt"/>
<line x1="440.3" y1="800.6" x2="445.3" y2="800.6" stroke="#000" stroke-width="2.6" stroke-linecap="butt"/>
<line x1="440.3" y1="854" x2="445.3" y2="854" stroke="#000" stroke-width="2.6" stroke-linecap="butt"/>
<line x1="440.3" y1="907.4" x2="445.3" y2="907.4" stroke="#000" stroke-width="2.6" stroke-linecap="butt"/>
<line x1="442.5" y1="760.4" x2="445.3" y2="760.4" stroke="#000" stroke-width="2.6" stroke-linecap="butt"/>
<line x1="442.5" y1="773.8" x2="445.3" y2="773.8" stroke="#000" stroke-width="2.6" stroke-linecap="butt"/>
<line x1="442.5" y1="787.2" x2="445.3" y2="787.2" stroke="#000" stroke-width="2.6" stroke-linecap="butt"/>
<line x1="442.5" y1="813.95" x2="445.3" y2="813.95" stroke="#000" stroke-width="2.6" stroke-linecap="butt"/>
<line x1="442.5" y1="827.3" x2="445.3" y2="827.3" stroke="#000" stroke-width="2.6" stroke-linecap="butt"/>
<line x1="442.5" y1="840.65" x2="445.3" y2="840.65" stroke="#000" stroke-width="2.6" stroke-linecap="butt"/>
<line x1="442.5" y1="867.35" x2="445.3" y2="867.35" stroke="#000" stroke-width="2.6" stroke-linecap="butt"/>
<line x1="442.5" y1="880.7" x2="445.3" y2="880.7" stroke="#000" stroke-width="2.6" stroke-linecap="butt"/>
<line x1="442.5" y1="894.05" x2="445.3" y2="894.05" stroke="#000" stroke-width="2.6" stroke-linecap="butt"/>
<text x="438.6" y="752.32" font-size="12" font-weight="bold" text-anchor="end" fill="#000">60</text>
<text x="438.6" y="805.92" font-size="12" font-weight="bold" text-anchor="end" fill="#000">40</text>
<text x="438.6" y="859.32" font-size="12" font-weight="bold" text-anchor="end" fill="#000">20</text>
<text x="438.6" y="912.72" font-size="12" font-weight="bold" text-anchor="end" fill="#000">0</text>
<line x1="444" y1="907.4" x2="711.2" y2="907.4" stroke="#000" stroke-width="2.4" stroke-linecap="butt"/>
<text transform="translate(401.5,821) rotate(-90)" font-size="13" font-weight="bold" text-anchor="middle" fill="#000">% contraction</text>
<text transform="translate(416.3,820.5) rotate(-90)" font-size="13" font-weight="bold" text-anchor="middle" fill="#000">(basal)</text>
<rect x="450.2" y="797.7" width="6.6" height="108.9" fill="#fff" stroke="#000" stroke-width="1.4"/>
<line x1="453.5" y1="794" x2="453.5" y2="797" stroke="#000" stroke-width="1.2" stroke-linecap="butt"/>
<line x1="451.5" y1="794" x2="455.5" y2="794" stroke="#000" stroke-width="1.2" stroke-linecap="butt"/>
<rect x="461.7" y="815.3" width="6" height="91.3" fill="#111111" stroke="#000" stroke-width="1.4"/>
<line x1="464.7" y1="811.6" x2="464.7" y2="814.6" stroke="#000" stroke-width="1.2" stroke-linecap="butt"/>
<line x1="462.7" y1="811.6" x2="466.7" y2="811.6" stroke="#000" stroke-width="1.2" stroke-linecap="butt"/>
<rect x="474" y="832.8" width="5.3" height="73.8" fill="#404040" stroke="#000" stroke-width="1.4"/>
<line x1="476.65" y1="829.1" x2="476.65" y2="832.1" stroke="#000" stroke-width="1.2" stroke-linecap="butt"/>
<line x1="474.65" y1="829.1" x2="478.65" y2="829.1" stroke="#000" stroke-width="1.2" stroke-linecap="butt"/>
<rect x="485.3" y="812.8" width="5.6" height="93.8" fill="#999999" stroke="#000" stroke-width="1.4"/>
<line x1="488.1" y1="809.1" x2="488.1" y2="812.1" stroke="#000" stroke-width="1.2" stroke-linecap="butt"/>
<line x1="486.1" y1="809.1" x2="490.1" y2="809.1" stroke="#000" stroke-width="1.2" stroke-linecap="butt"/>
<rect x="503.9" y="860.6" width="5.9" height="46" fill="#fff" stroke="#000" stroke-width="1.4"/>
<line x1="506.85" y1="856.9" x2="506.85" y2="859.9" stroke="#000" stroke-width="1.2" stroke-linecap="butt"/>
<line x1="504.85" y1="856.9" x2="508.85" y2="856.9" stroke="#000" stroke-width="1.2" stroke-linecap="butt"/>
<rect x="515.4" y="843.3" width="6" height="63.3" fill="#111111" stroke="#000" stroke-width="1.4"/>
<line x1="518.4" y1="839.6" x2="518.4" y2="842.6" stroke="#000" stroke-width="1.2" stroke-linecap="butt"/>
<line x1="516.4" y1="839.6" x2="520.4" y2="839.6" stroke="#000" stroke-width="1.2" stroke-linecap="butt"/>
<rect x="527" y="838.1" width="6" height="68.5" fill="#404040" stroke="#000" stroke-width="1.4"/>
<line x1="530" y1="834.4" x2="530" y2="837.4" stroke="#000" stroke-width="1.2" stroke-linecap="butt"/>
<line x1="528" y1="834.4" x2="532" y2="834.4" stroke="#000" stroke-width="1.2" stroke-linecap="butt"/>
<rect x="538.7" y="834.3" width="5.8" height="72.3" fill="#999999" stroke="#000" stroke-width="1.4"/>
<line x1="541.6" y1="830.6" x2="541.6" y2="833.6" stroke="#000" stroke-width="1.2" stroke-linecap="butt"/>
<line x1="539.6" y1="830.6" x2="543.6" y2="830.6" stroke="#000" stroke-width="1.2" stroke-linecap="butt"/>
<rect x="557.4" y="829.7" width="6.2" height="76.9" fill="#fff" stroke="#000" stroke-width="1.4"/>
<line x1="560.5" y1="826" x2="560.5" y2="829" stroke="#000" stroke-width="1.2" stroke-linecap="butt"/>
<line x1="558.5" y1="826" x2="562.5" y2="826" stroke="#000" stroke-width="1.2" stroke-linecap="butt"/>
<rect x="569" y="828" width="6.2" height="78.6" fill="#111111" stroke="#000" stroke-width="1.4"/>
<line x1="572.1" y1="824.3" x2="572.1" y2="827.3" stroke="#000" stroke-width="1.2" stroke-linecap="butt"/>
<line x1="570.1" y1="824.3" x2="574.1" y2="824.3" stroke="#000" stroke-width="1.2" stroke-linecap="butt"/>
<rect x="580.6" y="805.4" width="6.2" height="101.2" fill="#404040" stroke="#000" stroke-width="1.4"/>
<line x1="583.7" y1="801.7" x2="583.7" y2="804.7" stroke="#000" stroke-width="1.2" stroke-linecap="butt"/>
<line x1="581.7" y1="801.7" x2="585.7" y2="801.7" stroke="#000" stroke-width="1.2" stroke-linecap="butt"/>
<rect x="592.2" y="801.2" width="5.9" height="105.4" fill="#999999" stroke="#000" stroke-width="1.4"/>
<line x1="595.15" y1="797.5" x2="595.15" y2="800.5" stroke="#000" stroke-width="1.2" stroke-linecap="butt"/>
<line x1="593.15" y1="797.5" x2="597.15" y2="797.5" stroke="#000" stroke-width="1.2" stroke-linecap="butt"/>
<rect x="611.1" y="820.2" width="6.2" height="86.4" fill="#fff" stroke="#000" stroke-width="1.4"/>
<line x1="614.2" y1="816.5" x2="614.2" y2="819.5" stroke="#000" stroke-width="1.2" stroke-linecap="butt"/>
<line x1="612.2" y1="816.5" x2="616.2" y2="816.5" stroke="#000" stroke-width="1.2" stroke-linecap="butt"/>
<rect x="622.7" y="829.2" width="6.2" height="77.4" fill="#111111" stroke="#000" stroke-width="1.4"/>
<line x1="625.8" y1="825.5" x2="625.8" y2="828.5" stroke="#000" stroke-width="1.2" stroke-linecap="butt"/>
<line x1="623.8" y1="825.5" x2="627.8" y2="825.5" stroke="#000" stroke-width="1.2" stroke-linecap="butt"/>
<rect x="634.3" y="810.3" width="6.2" height="96.3" fill="#404040" stroke="#000" stroke-width="1.4"/>
<line x1="637.4" y1="806.6" x2="637.4" y2="809.6" stroke="#000" stroke-width="1.2" stroke-linecap="butt"/>
<line x1="635.4" y1="806.6" x2="639.4" y2="806.6" stroke="#000" stroke-width="1.2" stroke-linecap="butt"/>
<rect x="646" y="817.5" width="6.1" height="89.1" fill="#999999" stroke="#000" stroke-width="1.4"/>
<line x1="649.05" y1="813.8" x2="649.05" y2="816.8" stroke="#000" stroke-width="1.2" stroke-linecap="butt"/>
<line x1="647.05" y1="813.8" x2="651.05" y2="813.8" stroke="#000" stroke-width="1.2" stroke-linecap="butt"/>
<rect x="664.9" y="812.7" width="6" height="93.9" fill="#fff" stroke="#000" stroke-width="1.4"/>
<line x1="667.9" y1="809" x2="667.9" y2="812" stroke="#000" stroke-width="1.2" stroke-linecap="butt"/>
<line x1="665.9" y1="809" x2="669.9" y2="809" stroke="#000" stroke-width="1.2" stroke-linecap="butt"/>
<rect x="676.7" y="818.2" width="6.1" height="88.4" fill="#111111" stroke="#000" stroke-width="1.4"/>
<line x1="679.75" y1="814.5" x2="679.75" y2="817.5" stroke="#000" stroke-width="1.2" stroke-linecap="butt"/>
<line x1="677.75" y1="814.5" x2="681.75" y2="814.5" stroke="#000" stroke-width="1.2" stroke-linecap="butt"/>
<rect x="688.2" y="810" width="6.2" height="96.6" fill="#404040" stroke="#000" stroke-width="1.4"/>
<line x1="691.3" y1="806.3" x2="691.3" y2="809.3" stroke="#000" stroke-width="1.2" stroke-linecap="butt"/>
<line x1="689.3" y1="806.3" x2="693.3" y2="806.3" stroke="#000" stroke-width="1.2" stroke-linecap="butt"/>
<rect x="699.6" y="816.2" width="6.2" height="90.4" fill="#999999" stroke="#000" stroke-width="1.4"/>
<line x1="702.7" y1="812.5" x2="702.7" y2="815.5" stroke="#000" stroke-width="1.2" stroke-linecap="butt"/>
<line x1="700.7" y1="812.5" x2="704.7" y2="812.5" stroke="#000" stroke-width="1.2" stroke-linecap="butt"/>
<path d="M453.3,769 V758.2 H668.9 V769" stroke="#000" stroke-width="2.4" fill="none"/>
<line x1="505.3" y1="758.2" x2="505.3" y2="769" stroke="#000" stroke-width="2.3" stroke-linecap="butt"/>
<line x1="561.6" y1="758.2" x2="561.6" y2="769" stroke="#000" stroke-width="2.3" stroke-linecap="butt"/>
<line x1="615.3" y1="758.2" x2="615.3" y2="769" stroke="#000" stroke-width="2.3" stroke-linecap="butt"/>
<path d="M466.3,800.5 V793.2 H519 V825.8" stroke="#000" stroke-width="2.3" fill="none"/>
<text transform="translate(475,914.96) rotate(-45)" font-size="12.2" font-weight="bold" text-anchor="end" fill="#000">Histamine</text>
<text transform="translate(528.98,914.94) rotate(-45)" font-size="12.2" font-weight="bold" text-anchor="end" fill="#000">Iso</text>
<text transform="translate(581.96,915.89) rotate(-45)" font-size="12.2" font-weight="bold" text-anchor="end" fill="#000">ONO-259</text>
<text transform="translate(635.96,915.9) rotate(-45)" font-size="12.2" font-weight="bold" text-anchor="end" fill="#000">ONO-329</text>
<text transform="translate(686.98,917.39) rotate(-45)" font-size="12.2" font-weight="bold" text-anchor="end" fill="#000">PGE2</text>
<line x1="473.3" y1="958" x2="675.8" y2="958" stroke="#000" stroke-width="2" stroke-linecap="butt"/>
<text x="524.3" y="972.1" font-size="13.1" font-weight="normal" text-anchor="start" fill="#000">Histamine -100 µM</text>
<rect x="452.1" y="703.4" width="16.1" height="7.4" fill="#fff" stroke="#000" stroke-width="1.3"/>
<text x="478.4" y="711.6" font-size="13" font-weight="normal" text-anchor="start" fill="#000">Scr</text>
<rect x="514.4" y="703.4" width="15.9" height="7.4" fill="#111" stroke="#000" stroke-width="1.3"/>
<text x="540.2" y="711.6" font-size="13" font-weight="normal" text-anchor="start" fill="#000">Ezrin KD</text>
<rect x="452.5" y="720.8" width="15.6" height="7" fill="#404040" stroke="#000" stroke-width="1.5"/>
<text x="478.4" y="729" font-size="13" font-weight="normal" text-anchor="start" fill="#000">Gravin KD</text>
<rect x="563.2" y="720.8" width="15.7" height="7" fill="#999" stroke="#000" stroke-width="1.4"/>
<text x="589.2" y="729" font-size="13" font-weight="normal" text-anchor="start" fill="#000">Ezrin + Gravin KD</text>
<circle cx="470.2" cy="328.2" r="1.7" fill="#000"/>
<circle cx="473.4" cy="326.6" r="1.7" fill="#000"/>
<circle cx="473.4" cy="336.8" r="1.7" fill="#000"/>
<circle cx="488.5" cy="317.1" r="1.7" fill="#000"/>
<circle cx="487" cy="325" r="1.7" fill="#000"/>
<circle cx="491.2" cy="325" r="1.7" fill="#000"/>
<circle cx="512.6" cy="198.2" r="1.7" fill="#000"/>
<circle cx="512.6" cy="202.4" r="1.7" fill="#000"/>
<circle cx="512.6" cy="234.6" r="1.7" fill="#000"/>
<circle cx="527" cy="239.2" r="1.7" fill="#000"/>
<circle cx="527" cy="245.1" r="1.7" fill="#000"/>
<circle cx="527" cy="265.5" r="1.7" fill="#000"/>
<circle cx="524.2" cy="300.3" r="1.7" fill="#000"/>
<circle cx="530.5" cy="300.3" r="1.7" fill="#000"/>
<circle cx="551.7" cy="290.3" r="1.7" fill="#000"/>
<circle cx="550.4" cy="309.2" r="1.7" fill="#000"/>
<circle cx="552.8" cy="310" r="1.7" fill="#000"/>
<circle cx="548.5" cy="314" r="1.7" fill="#000"/>
<circle cx="566.2" cy="329.7" r="1.7" fill="#000"/>
<circle cx="563.8" cy="330" r="1.7" fill="#000"/>
<circle cx="569.4" cy="331" r="1.7" fill="#000"/>
<circle cx="586.7" cy="313.3" r="1.7" fill="#000"/>
<circle cx="589.5" cy="315.4" r="1.7" fill="#000"/>
<circle cx="593.7" cy="311.2" r="1.7" fill="#000"/>
<circle cx="590.5" cy="318.2" r="1.7" fill="#000"/>
<circle cx="602.1" cy="330.2" r="1.7" fill="#000"/>
<circle cx="607.4" cy="331.4" r="1.7" fill="#000"/>
<circle cx="604.6" cy="335.6" r="1.7" fill="#000"/>
<circle cx="629.5" cy="312.9" r="1.7" fill="#000"/>
<circle cx="627.4" cy="322.8" r="1.7" fill="#000"/>
<circle cx="632.2" cy="322.8" r="1.7" fill="#000"/>
<circle cx="643.2" cy="321.3" r="1.7" fill="#000"/>
<circle cx="645.3" cy="321.3" r="1.7" fill="#000"/>
<circle cx="643.2" cy="325.5" r="1.7" fill="#000"/>
<circle cx="668.6" cy="284.3" r="1.7" fill="#000"/>
<circle cx="668.6" cy="300.4" r="1.7" fill="#000"/>
<circle cx="668.6" cy="313.2" r="1.7" fill="#000"/>
<circle cx="668.6" cy="322" r="1.7" fill="#000"/>
<circle cx="683.2" cy="316.1" r="1.7" fill="#000"/>
<circle cx="679.6" cy="320.9" r="1.7" fill="#000"/>
<circle cx="686.8" cy="320.9" r="1.7" fill="#000"/>
<circle cx="681" cy="319.5" r="1.7" fill="#000"/>
<circle cx="96.5" cy="579.5" r="1.85" fill="#000"/>
<circle cx="93.2" cy="594.2" r="1.85" fill="#000"/>
<circle cx="100.5" cy="597.4" r="1.85" fill="#000"/>
<circle cx="96.5" cy="601.6" r="1.85" fill="#000"/>
<circle cx="113.2" cy="574.2" r="1.85" fill="#000"/>
<circle cx="113.2" cy="593.5" r="1.85" fill="#000"/>
<circle cx="113.2" cy="597.4" r="1.85" fill="#000"/>
<circle cx="140.2" cy="481.4" r="1.85" fill="#000"/>
<circle cx="140.2" cy="496.6" r="1.85" fill="#000"/>
<circle cx="140.2" cy="500.8" r="1.85" fill="#000"/>
<circle cx="140.2" cy="542.1" r="1.85" fill="#000"/>
<circle cx="156.3" cy="562.6" r="1.85" fill="#000"/>
<circle cx="156.3" cy="564.7" r="1.85" fill="#000"/>
<circle cx="156.3" cy="566.8" r="1.85" fill="#000"/>
<circle cx="156.3" cy="587.6" r="1.85" fill="#000"/>
<circle cx="183.7" cy="556.3" r="1.85" fill="#000"/>
<circle cx="183.7" cy="564.2" r="1.85" fill="#000"/>
<circle cx="183.7" cy="577.6" r="1.85" fill="#000"/>
<circle cx="183.7" cy="593.4" r="1.85" fill="#000"/>
<circle cx="179.7" cy="597.4" r="1.85" fill="#000"/>
<circle cx="186.8" cy="600" r="1.85" fill="#000"/>
<circle cx="179.7" cy="602" r="1.85" fill="#000"/>
<circle cx="200.3" cy="567.7" r="1.85" fill="#000"/>
<circle cx="200.3" cy="584" r="1.85" fill="#000"/>
<circle cx="200.3" cy="595" r="1.85" fill="#000"/>
<circle cx="200.3" cy="599" r="1.85" fill="#000"/>
<circle cx="227.1" cy="547.6" r="1.85" fill="#000"/>
<circle cx="223.2" cy="562.2" r="1.85" fill="#000"/>
<circle cx="231" cy="562.2" r="1.85" fill="#000"/>
<circle cx="227.1" cy="584.4" r="1.85" fill="#000"/>
<circle cx="227.1" cy="591.4" r="1.85" fill="#000"/>
<circle cx="231" cy="599" r="1.85" fill="#000"/>
<circle cx="223.2" cy="602" r="1.85" fill="#000"/>
<circle cx="243.4" cy="569.7" r="1.85" fill="#000"/>
<circle cx="243.4" cy="576.4" r="1.85" fill="#000"/>
<circle cx="243.4" cy="590.7" r="1.85" fill="#000"/>
<circle cx="246.8" cy="595" r="1.85" fill="#000"/>
<circle cx="239.7" cy="598.2" r="1.85" fill="#000"/>
<circle cx="270.6" cy="525.8" r="1.85" fill="#000"/>
<circle cx="270.6" cy="532.6" r="1.85" fill="#000"/>
<circle cx="270.6" cy="541.6" r="1.85" fill="#000"/>
<circle cx="270.6" cy="572.2" r="1.85" fill="#000"/>
<circle cx="267.3" cy="588.4" r="1.85" fill="#000"/>
<circle cx="274.1" cy="588.1" r="1.85" fill="#000"/>
<circle cx="283.6" cy="595" r="1.85" fill="#000"/>
<circle cx="290.7" cy="591.6" r="1.85" fill="#000"/>
<circle cx="286.8" cy="605" r="1.85" fill="#000"/>
<circle cx="314" cy="535.3" r="1.85" fill="#000"/>
<circle cx="314" cy="541.6" r="1.85" fill="#000"/>
<circle cx="314" cy="563.8" r="1.85" fill="#000"/>
<circle cx="326.4" cy="587.6" r="1.85" fill="#000"/>
<circle cx="334" cy="586.8" r="1.85" fill="#000"/>
<circle cx="333.5" cy="590.8" r="1.85" fill="#000"/>
<circle cx="330.4" cy="605" r="1.85" fill="#000"/>
<circle cx="334" cy="599" r="1.85" fill="#000"/>
<circle cx="467.4" cy="594.1" r="1.7" fill="#000"/>
<circle cx="470.5" cy="594.1" r="1.7" fill="#000"/>
<circle cx="473.6" cy="594.1" r="1.7" fill="#000"/>
<circle cx="467.4" cy="598.8" r="1.7" fill="#000"/>
<circle cx="473.6" cy="598.8" r="1.7" fill="#000"/>
<circle cx="487.5" cy="596.2" r="1.7" fill="#000"/>
<circle cx="484.8" cy="600.3" r="1.7" fill="#000"/>
<circle cx="491" cy="599.8" r="1.7" fill="#000"/>
<circle cx="487.9" cy="609" r="1.7" fill="#000"/>
<circle cx="514.9" cy="476.8" r="1.7" fill="#000"/>
<circle cx="510.4" cy="504.2" r="1.7" fill="#000"/>
<circle cx="518.1" cy="504.2" r="1.7" fill="#000"/>
<circle cx="513.4" cy="499.7" r="1.7" fill="#000"/>
<circle cx="530.8" cy="557.3" r="1.7" fill="#000"/>
<circle cx="532.8" cy="568.8" r="1.7" fill="#000"/>
<circle cx="530.8" cy="581.9" r="1.7" fill="#000"/>
<circle cx="530.8" cy="596.2" r="1.7" fill="#000"/>
<circle cx="553.75" cy="593.25" r="1.7" fill="#000"/>
<circle cx="557.5" cy="595" r="1.7" fill="#000"/>
<circle cx="560" cy="592.5" r="1.7" fill="#000"/>
<circle cx="562" cy="596.25" r="1.7" fill="#000"/>
<circle cx="555" cy="598" r="1.7" fill="#000"/>
<circle cx="570" cy="611.25" r="1.7" fill="#000"/>
<circle cx="573" cy="609.25" r="1.7" fill="#000"/>
<circle cx="575.75" cy="607.5" r="1.7" fill="#000"/>
<circle cx="578" cy="607" r="1.7" fill="#000"/>
<circle cx="597.5" cy="571.25" r="1.7" fill="#000"/>
<circle cx="601.25" cy="572.5" r="1.7" fill="#000"/>
<circle cx="604.5" cy="572.5" r="1.7" fill="#000"/>
<circle cx="598.75" cy="583.75" r="1.7" fill="#000"/>
<circle cx="601.25" cy="592.5" r="1.7" fill="#000"/>
<circle cx="601.25" cy="599.5" r="1.7" fill="#000"/>
<circle cx="617.5" cy="590.5" r="1.7" fill="#000"/>
<circle cx="613.75" cy="598.75" r="1.7" fill="#000"/>
<circle cx="620.5" cy="598.75" r="1.7" fill="#000"/>
<circle cx="617.5" cy="606.25" r="1.7" fill="#000"/>
<circle cx="615" cy="610" r="1.7" fill="#000"/>
<circle cx="640.5" cy="578" r="1.7" fill="#000"/>
<circle cx="644.5" cy="580" r="1.7" fill="#000"/>
<circle cx="648" cy="578.75" r="1.7" fill="#000"/>
<circle cx="644.5" cy="587" r="1.7" fill="#000"/>
<circle cx="660.5" cy="592.5" r="1.7" fill="#000"/>
<circle cx="660.5" cy="598" r="1.7" fill="#000"/>
<circle cx="657.5" cy="603.75" r="1.7" fill="#000"/>
<circle cx="663.75" cy="605" r="1.7" fill="#000"/>
<circle cx="660" cy="611.25" r="1.7" fill="#000"/>
<circle cx="688" cy="570" r="1.7" fill="#000"/>
<circle cx="685.5" cy="577" r="1.7" fill="#000"/>
<circle cx="692" cy="578.75" r="1.7" fill="#000"/>
<circle cx="688" cy="586.25" r="1.7" fill="#000"/>
<circle cx="707.5" cy="598.75" r="1.7" fill="#000"/>
<circle cx="702.5" cy="602" r="1.7" fill="#000"/>
<circle cx="708" cy="603" r="1.7" fill="#000"/>
<circle cx="705" cy="612.5" r="1.7" fill="#000"/>
<circle cx="129.6" cy="793.7" r="1.7" fill="#000"/>
<circle cx="123.1" cy="802.7" r="1.7" fill="#000"/>
<circle cx="123.1" cy="805" r="1.7" fill="#000"/>
<circle cx="129.6" cy="803.1" r="1.7" fill="#000"/>
<circle cx="136.1" cy="802.7" r="1.7" fill="#000"/>
<circle cx="136.1" cy="806" r="1.7" fill="#000"/>
<circle cx="129.6" cy="809.9" r="1.7" fill="#000"/>
<circle cx="129.6" cy="824.1" r="1.7" fill="#000"/>
<circle cx="129.6" cy="834.5" r="1.7" fill="#000"/>
<circle cx="180.5" cy="819" r="1.7" fill="#000"/>
<circle cx="187.2" cy="816.1" r="1.7" fill="#000"/>
<circle cx="187.2" cy="819.7" r="1.7" fill="#000"/>
<circle cx="193.3" cy="819" r="1.7" fill="#000"/>
<circle cx="180.3" cy="826.2" r="1.7" fill="#000"/>
<circle cx="197.6" cy="826.2" r="1.7" fill="#000"/>
<circle cx="186.8" cy="838.5" r="1.7" fill="#000"/>
<circle cx="193.3" cy="838.5" r="1.7" fill="#000"/>
<circle cx="190.4" cy="846.9" r="1.7" fill="#000"/>
<circle cx="250.3" cy="831.3" r="1.7" fill="#000"/>
<circle cx="250.3" cy="847.7" r="1.7" fill="#000"/>
<circle cx="250.3" cy="861.9" r="1.7" fill="#000"/>
<circle cx="250.3" cy="869" r="1.7" fill="#000"/>
<circle cx="311.1" cy="815" r="1.7" fill="#000"/>
<circle cx="304.9" cy="823.6" r="1.7" fill="#000"/>
<circle cx="311.1" cy="823.6" r="1.7" fill="#000"/>
<circle cx="317.7" cy="823.6" r="1.7" fill="#000"/>
<circle cx="311.1" cy="830.7" r="1.7" fill="#000"/>
<circle cx="311.1" cy="837.8" r="1.7" fill="#000"/>
<circle cx="311.1" cy="847.7" r="1.7" fill="#000"/>
<circle cx="311.1" cy="863.4" r="1.7" fill="#000"/>
<circle cx="453.4" cy="789.5" r="1.65" fill="#000"/>
<circle cx="453.4" cy="794.5" r="1.65" fill="#000"/>
<circle cx="451" cy="797" r="1.65" fill="#000"/>
<circle cx="455.5" cy="797" r="1.65" fill="#000"/>
<circle cx="453.4" cy="799.5" r="1.65" fill="#000"/>
<circle cx="451.5" cy="801.5" r="1.65" fill="#000"/>
<circle cx="455" cy="802" r="1.65" fill="#000"/>
<circle cx="453.4" cy="812.9" r="1.65" fill="#000"/>
<circle cx="463.1" cy="808.6" r="1.65" fill="#000"/>
<circle cx="465.3" cy="807.6" r="1.65" fill="#000"/>
<circle cx="466.7" cy="808.6" r="1.65" fill="#000"/>
<circle cx="463.1" cy="824.2" r="1.65" fill="#000"/>
<circle cx="465" cy="830" r="1.65" fill="#000"/>
<circle cx="476.1" cy="818.1" r="1.65" fill="#000"/>
<circle cx="476.1" cy="821" r="1.65" fill="#000"/>
<circle cx="476.1" cy="840.8" r="1.65" fill="#000"/>
<circle cx="476.1" cy="846.6" r="1.65" fill="#000"/>
<circle cx="487.7" cy="801.3" r="1.65" fill="#000"/>
<circle cx="487.7" cy="806.1" r="1.65" fill="#000"/>
<circle cx="487.7" cy="816.2" r="1.65" fill="#000"/>
<circle cx="487.7" cy="822.8" r="1.65" fill="#000"/>
<circle cx="505" cy="855.3" r="1.65" fill="#000"/>
<circle cx="508.7" cy="855.3" r="1.65" fill="#000"/>
<circle cx="506.9" cy="857.5" r="1.65" fill="#000"/>
<circle cx="506.9" cy="864" r="1.65" fill="#000"/>
<circle cx="506.9" cy="866.9" r="1.65" fill="#000"/>
<circle cx="518.5" cy="830.7" r="1.65" fill="#000"/>
<circle cx="516.6" cy="836.5" r="1.65" fill="#000"/>
<circle cx="521" cy="836.5" r="1.65" fill="#000"/>
<circle cx="518.5" cy="845.9" r="1.65" fill="#000"/>
<circle cx="518.5" cy="853.1" r="1.65" fill="#000"/>
<circle cx="518.5" cy="860.4" r="1.65" fill="#000"/>
<circle cx="530.4" cy="821" r="1.65" fill="#000"/>
<circle cx="530.4" cy="827.1" r="1.65" fill="#000"/>
<circle cx="530.4" cy="830.7" r="1.65" fill="#000"/>
<circle cx="530.4" cy="843" r="1.65" fill="#000"/>
<circle cx="530.4" cy="845.9" r="1.65" fill="#000"/>
<circle cx="530.4" cy="851.7" r="1.65" fill="#000"/>
<circle cx="541.7" cy="814.1" r="1.65" fill="#000"/>
<circle cx="541.7" cy="819.1" r="1.65" fill="#000"/>
<circle cx="541.7" cy="822" r="1.65" fill="#000"/>
<circle cx="541.7" cy="825.7" r="1.65" fill="#000"/>
<circle cx="541.7" cy="848.8" r="1.65" fill="#000"/>
<circle cx="539.8" cy="850.3" r="1.65" fill="#000"/>
<circle cx="543.4" cy="848.5" r="1.65" fill="#000"/>
<circle cx="560.9" cy="810" r="1.65" fill="#000"/>
<circle cx="558.4" cy="814.3" r="1.65" fill="#000"/>
<circle cx="560.1" cy="816.8" r="1.65" fill="#000"/>
<circle cx="558.4" cy="820.7" r="1.65" fill="#000"/>
<circle cx="563" cy="820.7" r="1.65" fill="#000"/>
<circle cx="560.9" cy="823.3" r="1.65" fill="#000"/>
<circle cx="560.9" cy="839.2" r="1.65" fill="#000"/>
<circle cx="562.3" cy="836.3" r="1.65" fill="#000"/>
<circle cx="558.4" cy="844.3" r="1.65" fill="#000"/>
<circle cx="563" cy="844.3" r="1.65" fill="#000"/>
<circle cx="572" cy="806.2" r="1.65" fill="#000"/>
<circle cx="572" cy="816.3" r="1.65" fill="#000"/>
<circle cx="572" cy="827.3" r="1.65" fill="#000"/>
<circle cx="572" cy="832.7" r="1.65" fill="#000"/>
<circle cx="572" cy="837.8" r="1.65" fill="#000"/>
<circle cx="583.6" cy="793.2" r="1.65" fill="#000"/>
<circle cx="581.5" cy="797.2" r="1.65" fill="#000"/>
<circle cx="586.2" cy="797.2" r="1.65" fill="#000"/>
<circle cx="583.6" cy="808.8" r="1.65" fill="#000"/>
<circle cx="583.6" cy="813.9" r="1.65" fill="#000"/>
<circle cx="593.4" cy="799" r="1.65" fill="#000"/>
<circle cx="596" cy="800.4" r="1.65" fill="#000"/>
<circle cx="597.8" cy="800.9" r="1.65" fill="#000"/>
<circle cx="614.4" cy="803.7" r="1.65" fill="#000"/>
<circle cx="614.4" cy="808.5" r="1.65" fill="#000"/>
<circle cx="612.2" cy="818.7" r="1.65" fill="#000"/>
<circle cx="616.6" cy="816" r="1.65" fill="#000"/>
<circle cx="614.4" cy="821.1" r="1.65" fill="#000"/>
<circle cx="611.9" cy="828.8" r="1.65" fill="#000"/>
<circle cx="615.8" cy="829.1" r="1.65" fill="#000"/>
<circle cx="614.4" cy="833.4" r="1.65" fill="#000"/>
<circle cx="626" cy="815.3" r="1.65" fill="#000"/>
<circle cx="628.1" cy="816.8" r="1.65" fill="#000"/>
<circle cx="626" cy="820.4" r="1.65" fill="#000"/>
<circle cx="623.8" cy="824.7" r="1.65" fill="#000"/>
<circle cx="627.4" cy="826.2" r="1.65" fill="#000"/>
<circle cx="626" cy="837.8" r="1.65" fill="#000"/>
<circle cx="626" cy="846.4" r="1.65" fill="#000"/>
<circle cx="635.1" cy="799.8" r="1.65" fill="#000"/>
<circle cx="637.6" cy="802.3" r="1.65" fill="#000"/>
<circle cx="639.7" cy="803.3" r="1.65" fill="#000"/>
<circle cx="636.8" cy="807.7" r="1.65" fill="#000"/>
<circle cx="636.8" cy="816" r="1.65" fill="#000"/>
<circle cx="636.8" cy="821.1" r="1.65" fill="#000"/>
<circle cx="648.7" cy="802.3" r="1.65" fill="#000"/>
<circle cx="648.7" cy="805.9" r="1.65" fill="#000"/>
<circle cx="648.7" cy="808.8" r="1.65" fill="#000"/>
<circle cx="648.7" cy="811.7" r="1.65" fill="#000"/>
<circle cx="648.7" cy="815.8" r="1.65" fill="#000"/>
<circle cx="647" cy="823.3" r="1.65" fill="#000"/>
<circle cx="648.7" cy="826.9" r="1.65" fill="#000"/>
<circle cx="648.7" cy="831.2" r="1.65" fill="#000"/>
<circle cx="667.2" cy="797.5" r="1.65" fill="#000"/>
<circle cx="669.3" cy="797.5" r="1.65" fill="#000"/>
<circle cx="667.9" cy="807.2" r="1.65" fill="#000"/>
<circle cx="667.9" cy="812.2" r="1.65" fill="#000"/>
<circle cx="666" cy="813.6" r="1.65" fill="#000"/>
<circle cx="670" cy="813.6" r="1.65" fill="#000"/>
<circle cx="666" cy="820.1" r="1.65" fill="#000"/>
<circle cx="670" cy="820.1" r="1.65" fill="#000"/>
<circle cx="667.9" cy="825.5" r="1.65" fill="#000"/>
<circle cx="666" cy="826.5" r="1.65" fill="#000"/>
<circle cx="679.3" cy="800.7" r="1.65" fill="#000"/>
<circle cx="677.5" cy="809.3" r="1.65" fill="#000"/>
<circle cx="681.5" cy="810.8" r="1.65" fill="#000"/>
<circle cx="679.3" cy="812.9" r="1.65" fill="#000"/>
<circle cx="679.3" cy="822.9" r="1.65" fill="#000"/>
<circle cx="679.3" cy="827.9" r="1.65" fill="#000"/>
<circle cx="679.3" cy="839.4" r="1.65" fill="#000"/>
<circle cx="690.8" cy="794.3" r="1.65" fill="#000"/>
<circle cx="692.2" cy="794.3" r="1.65" fill="#000"/>
<circle cx="691.5" cy="797.9" r="1.65" fill="#000"/>
<circle cx="691.5" cy="806.5" r="1.65" fill="#000"/>
<circle cx="691.5" cy="813.6" r="1.65" fill="#000"/>
<circle cx="691.5" cy="821.5" r="1.65" fill="#000"/>
<circle cx="691.5" cy="825.8" r="1.65" fill="#000"/>
<circle cx="700.8" cy="803.2" r="1.65" fill="#000"/>
<circle cx="705.1" cy="803.2" r="1.65" fill="#000"/>
<circle cx="702.9" cy="807.5" r="1.65" fill="#000"/>
<circle cx="705.1" cy="810.8" r="1.65" fill="#000"/>
<circle cx="701.5" cy="814.3" r="1.65" fill="#000"/>
<circle cx="702.9" cy="821.5" r="1.65" fill="#000"/>
<circle cx="700.8" cy="826.5" r="1.65" fill="#000"/>
<circle cx="703.7" cy="827.2" r="1.65" fill="#000"/>
<circle cx="701.2" cy="830.1" r="1.65" fill="#000"/>
</svg>
</body></html>
